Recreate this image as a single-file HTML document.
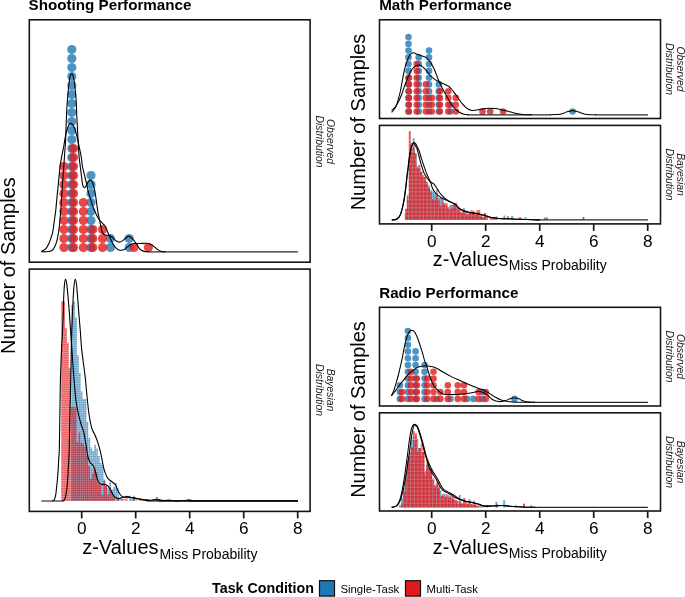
<!DOCTYPE html>
<html lang="en"><head><meta charset="utf-8"><title>Performance distributions</title>
<style>html,body{margin:0;padding:0;background:#fff}body{width:685px;height:597px;overflow:hidden}svg{display:block}text{font-family:"Liberation Sans",Arial,Helvetica,sans-serif;fill:#000}.t{font-weight:bold;font-size:15.2px}.ax{font-size:20px}.sub{font-size:14px}.tk{font-size:17.2px;text-anchor:middle}.st{font-size:10.4px;font-style:italic;text-anchor:middle;fill:#1a1a1a}.lt{font-weight:bold;font-size:14.25px}.ll{font-size:11.4px}.c{fill:none;stroke:#000;stroke-width:1.1;stroke-linejoin:round}.cr{stroke-width:1.05}.bl{stroke:#2a2a2a;stroke-width:1.25}.pb{fill:none;stroke:#151515;stroke-width:1.6}.tick{stroke:#151515;stroke-width:1.7}</style></head><body>
<svg width="685" height="597" viewBox="0 0 685 597">
<defs><mask id="mL2r" maskUnits="userSpaceOnUse" x="58.2" y="293.0" width="144.8" height="209.9"><rect x="58.2" y="293.0" width="144.8" height="209.9" fill="#fff"/><path d="M61.20 295.0V501.9M63.13 295.0V501.9M65.06 295.0V501.9M66.99 295.0V501.9M68.92 295.0V501.9M70.85 295.0V501.9M72.78 295.0V501.9M74.71 295.0V501.9M76.64 295.0V501.9M78.57 295.0V501.9M80.50 295.0V501.9M82.43 295.0V501.9M84.36 295.0V501.9M86.29 295.0V501.9M88.22 295.0V501.9M90.15 295.0V501.9M92.08 295.0V501.9M94.01 295.0V501.9M95.94 295.0V501.9M97.87 295.0V501.9M99.80 295.0V501.9M101.73 295.0V501.9M103.66 295.0V501.9M105.59 295.0V501.9M107.52 295.0V501.9M109.45 295.0V501.9M111.38 295.0V501.9M113.31 295.0V501.9M115.24 295.0V501.9M117.17 295.0V501.9M119.10 295.0V501.9M121.03 295.0V501.9M122.96 295.0V501.9M124.89 295.0V501.9M126.82 295.0V501.9M128.75 295.0V501.9M130.68 295.0V501.9M132.61 295.0V501.9M134.54 295.0V501.9M136.47 295.0V501.9M138.40 295.0V501.9M140.33 295.0V501.9M142.26 295.0V501.9M144.19 295.0V501.9M146.12 295.0V501.9M148.05 295.0V501.9M149.98 295.0V501.9M151.91 295.0V501.9M153.84 295.0V501.9M155.77 295.0V501.9M157.70 295.0V501.9M159.63 295.0V501.9M161.56 295.0V501.9M163.49 295.0V501.9M165.42 295.0V501.9M167.35 295.0V501.9M169.28 295.0V501.9M171.21 295.0V501.9M173.14 295.0V501.9M175.07 295.0V501.9M177.00 295.0V501.9M178.93 295.0V501.9M180.86 295.0V501.9M182.79 295.0V501.9M184.72 295.0V501.9M186.65 295.0V501.9M188.58 295.0V501.9M190.51 295.0V501.9M192.44 295.0V501.9M194.37 295.0V501.9M196.30 295.0V501.9M198.23 295.0V501.9" stroke="#000" stroke-opacity="0.7" stroke-width="0.5" fill="none"/><path d="M59.2 500.90H200.0M59.2 498.65H200.0M59.2 496.40H200.0M59.2 494.15H200.0M59.2 491.90H200.0M59.2 489.65H200.0M59.2 487.40H200.0M59.2 485.15H200.0M59.2 482.90H200.0M59.2 480.65H200.0M59.2 478.40H200.0M59.2 476.15H200.0M59.2 473.90H200.0M59.2 471.65H200.0M59.2 469.40H200.0M59.2 467.15H200.0M59.2 464.90H200.0M59.2 462.65H200.0M59.2 460.40H200.0M59.2 458.15H200.0M59.2 455.90H200.0M59.2 453.65H200.0M59.2 451.40H200.0M59.2 449.15H200.0M59.2 446.90H200.0M59.2 444.65H200.0M59.2 442.40H200.0M59.2 440.15H200.0M59.2 437.90H200.0M59.2 435.65H200.0M59.2 433.40H200.0M59.2 431.15H200.0M59.2 428.90H200.0M59.2 426.65H200.0M59.2 424.40H200.0M59.2 422.15H200.0M59.2 419.90H200.0M59.2 417.65H200.0M59.2 415.40H200.0M59.2 413.15H200.0M59.2 410.90H200.0M59.2 408.65H200.0M59.2 406.40H200.0M59.2 404.15H200.0M59.2 401.90H200.0M59.2 399.65H200.0M59.2 397.40H200.0M59.2 395.15H200.0M59.2 392.90H200.0M59.2 390.65H200.0M59.2 388.40H200.0M59.2 386.15H200.0M59.2 383.90H200.0M59.2 381.65H200.0M59.2 379.40H200.0M59.2 377.15H200.0M59.2 374.90H200.0M59.2 372.65H200.0M59.2 370.40H200.0M59.2 368.15H200.0M59.2 365.90H200.0M59.2 363.65H200.0M59.2 361.40H200.0M59.2 359.15H200.0M59.2 356.90H200.0M59.2 354.65H200.0M59.2 352.40H200.0M59.2 350.15H200.0M59.2 347.90H200.0M59.2 345.65H200.0M59.2 343.40H200.0M59.2 341.15H200.0M59.2 338.90H200.0M59.2 336.65H200.0M59.2 334.40H200.0M59.2 332.15H200.0M59.2 329.90H200.0M59.2 327.65H200.0M59.2 325.40H200.0M59.2 323.15H200.0M59.2 320.90H200.0M59.2 318.65H200.0M59.2 316.40H200.0M59.2 314.15H200.0M59.2 311.90H200.0M59.2 309.65H200.0M59.2 307.40H200.0M59.2 305.15H200.0M59.2 302.90H200.0M59.2 300.65H200.0M59.2 298.40H200.0M59.2 296.15H200.0" stroke="#000" stroke-opacity="0.7" stroke-width="0.55" fill="none"/></mask><mask id="mL2b" maskUnits="userSpaceOnUse" x="58.2" y="293.0" width="144.8" height="209.9"><rect x="58.2" y="293.0" width="144.8" height="209.9" fill="#fff"/><path d="M61.50 295.0V501.9M63.43 295.0V501.9M65.36 295.0V501.9M67.29 295.0V501.9M69.22 295.0V501.9M71.15 295.0V501.9M73.08 295.0V501.9M75.01 295.0V501.9M76.94 295.0V501.9M78.87 295.0V501.9M80.80 295.0V501.9M82.73 295.0V501.9M84.66 295.0V501.9M86.59 295.0V501.9M88.52 295.0V501.9M90.45 295.0V501.9M92.38 295.0V501.9M94.31 295.0V501.9M96.24 295.0V501.9M98.17 295.0V501.9M100.10 295.0V501.9M102.03 295.0V501.9M103.96 295.0V501.9M105.89 295.0V501.9M107.82 295.0V501.9M109.75 295.0V501.9M111.68 295.0V501.9M113.61 295.0V501.9M115.54 295.0V501.9M117.47 295.0V501.9M119.40 295.0V501.9M121.33 295.0V501.9M123.26 295.0V501.9M125.19 295.0V501.9M127.12 295.0V501.9M129.05 295.0V501.9M130.98 295.0V501.9M132.91 295.0V501.9M134.84 295.0V501.9M136.77 295.0V501.9M138.70 295.0V501.9M140.63 295.0V501.9M142.56 295.0V501.9M144.49 295.0V501.9M146.42 295.0V501.9M148.35 295.0V501.9M150.28 295.0V501.9M152.21 295.0V501.9M154.14 295.0V501.9M156.07 295.0V501.9M158.00 295.0V501.9M159.93 295.0V501.9M161.86 295.0V501.9M163.79 295.0V501.9M165.72 295.0V501.9M167.65 295.0V501.9M169.58 295.0V501.9M171.51 295.0V501.9M173.44 295.0V501.9M175.37 295.0V501.9M177.30 295.0V501.9M179.23 295.0V501.9M181.16 295.0V501.9M183.09 295.0V501.9M185.02 295.0V501.9M186.95 295.0V501.9M188.88 295.0V501.9M190.81 295.0V501.9M192.74 295.0V501.9M194.67 295.0V501.9M196.60 295.0V501.9M198.53 295.0V501.9" stroke="#000" stroke-opacity="0.7" stroke-width="0.5" fill="none"/><path d="M59.2 500.40H200.0M59.2 498.15H200.0M59.2 495.90H200.0M59.2 493.65H200.0M59.2 491.40H200.0M59.2 489.15H200.0M59.2 486.90H200.0M59.2 484.65H200.0M59.2 482.40H200.0M59.2 480.15H200.0M59.2 477.90H200.0M59.2 475.65H200.0M59.2 473.40H200.0M59.2 471.15H200.0M59.2 468.90H200.0M59.2 466.65H200.0M59.2 464.40H200.0M59.2 462.15H200.0M59.2 459.90H200.0M59.2 457.65H200.0M59.2 455.40H200.0M59.2 453.15H200.0M59.2 450.90H200.0M59.2 448.65H200.0M59.2 446.40H200.0M59.2 444.15H200.0M59.2 441.90H200.0M59.2 439.65H200.0M59.2 437.40H200.0M59.2 435.15H200.0M59.2 432.90H200.0M59.2 430.65H200.0M59.2 428.40H200.0M59.2 426.15H200.0M59.2 423.90H200.0M59.2 421.65H200.0M59.2 419.40H200.0M59.2 417.15H200.0M59.2 414.90H200.0M59.2 412.65H200.0M59.2 410.40H200.0M59.2 408.15H200.0M59.2 405.90H200.0M59.2 403.65H200.0M59.2 401.40H200.0M59.2 399.15H200.0M59.2 396.90H200.0M59.2 394.65H200.0M59.2 392.40H200.0M59.2 390.15H200.0M59.2 387.90H200.0M59.2 385.65H200.0M59.2 383.40H200.0M59.2 381.15H200.0M59.2 378.90H200.0M59.2 376.65H200.0M59.2 374.40H200.0M59.2 372.15H200.0M59.2 369.90H200.0M59.2 367.65H200.0M59.2 365.40H200.0M59.2 363.15H200.0M59.2 360.90H200.0M59.2 358.65H200.0M59.2 356.40H200.0M59.2 354.15H200.0M59.2 351.90H200.0M59.2 349.65H200.0M59.2 347.40H200.0M59.2 345.15H200.0M59.2 342.90H200.0M59.2 340.65H200.0M59.2 338.40H200.0M59.2 336.15H200.0M59.2 333.90H200.0M59.2 331.65H200.0M59.2 329.40H200.0M59.2 327.15H200.0M59.2 324.90H200.0M59.2 322.65H200.0M59.2 320.40H200.0M59.2 318.15H200.0M59.2 315.90H200.0M59.2 313.65H200.0M59.2 311.40H200.0M59.2 309.15H200.0M59.2 306.90H200.0M59.2 304.65H200.0M59.2 302.40H200.0M59.2 300.15H200.0M59.2 297.90H200.0M59.2 295.65H200.0" stroke="#000" stroke-opacity="0.7" stroke-width="0.55" fill="none"/></mask><mask id="mR2r" maskUnits="userSpaceOnUse" x="401.9" y="126.0" width="191.1" height="95.9"><rect x="401.9" y="126.0" width="191.1" height="95.9" fill="#fff"/><path d="M404.90 128.0V220.9M408.60 128.0V220.9M412.30 128.0V220.9M416.00 128.0V220.9M419.70 128.0V220.9M423.40 128.0V220.9M427.10 128.0V220.9M430.80 128.0V220.9M434.50 128.0V220.9M438.20 128.0V220.9M441.90 128.0V220.9M445.60 128.0V220.9M449.30 128.0V220.9M453.00 128.0V220.9M456.70 128.0V220.9M460.40 128.0V220.9M464.10 128.0V220.9M467.80 128.0V220.9M471.50 128.0V220.9M475.20 128.0V220.9M478.90 128.0V220.9M482.60 128.0V220.9M486.30 128.0V220.9M490.00 128.0V220.9M493.70 128.0V220.9M497.40 128.0V220.9M501.10 128.0V220.9M504.80 128.0V220.9M508.50 128.0V220.9M512.20 128.0V220.9M515.90 128.0V220.9M519.60 128.0V220.9M523.30 128.0V220.9M527.00 128.0V220.9M530.70 128.0V220.9M534.40 128.0V220.9M538.10 128.0V220.9M541.80 128.0V220.9M545.50 128.0V220.9M549.20 128.0V220.9M552.90 128.0V220.9M556.60 128.0V220.9M560.30 128.0V220.9M564.00 128.0V220.9M567.70 128.0V220.9M571.40 128.0V220.9M575.10 128.0V220.9M578.80 128.0V220.9M582.50 128.0V220.9M586.20 128.0V220.9M589.90 128.0V220.9" stroke="#000" stroke-opacity="0.2" stroke-width="1.0" fill="none"/><path d="M402.9 219.90H590.0M402.9 215.90H590.0M402.9 211.90H590.0M402.9 207.90H590.0M402.9 203.90H590.0M402.9 199.90H590.0M402.9 195.90H590.0M402.9 191.90H590.0M402.9 187.90H590.0M402.9 183.90H590.0M402.9 179.90H590.0M402.9 175.90H590.0M402.9 171.90H590.0M402.9 167.90H590.0M402.9 163.90H590.0M402.9 159.90H590.0M402.9 155.90H590.0M402.9 151.90H590.0M402.9 147.90H590.0M402.9 143.90H590.0M402.9 139.90H590.0M402.9 135.90H590.0M402.9 131.90H590.0" stroke="#000" stroke-opacity="0.2" stroke-width="1.0" fill="none"/></mask><mask id="mR2b" maskUnits="userSpaceOnUse" x="401.9" y="126.0" width="191.1" height="95.9"><rect x="401.9" y="126.0" width="191.1" height="95.9" fill="#fff"/><path d="M406.75 128.0V220.9M410.45 128.0V220.9M414.15 128.0V220.9M417.85 128.0V220.9M421.55 128.0V220.9M425.25 128.0V220.9M428.95 128.0V220.9M432.65 128.0V220.9M436.35 128.0V220.9M440.05 128.0V220.9M443.75 128.0V220.9M447.45 128.0V220.9M451.15 128.0V220.9M454.85 128.0V220.9M458.55 128.0V220.9M462.25 128.0V220.9M465.95 128.0V220.9M469.65 128.0V220.9M473.35 128.0V220.9M477.05 128.0V220.9M480.75 128.0V220.9M484.45 128.0V220.9M488.15 128.0V220.9M491.85 128.0V220.9M495.55 128.0V220.9M499.25 128.0V220.9M502.95 128.0V220.9M506.65 128.0V220.9M510.35 128.0V220.9M514.05 128.0V220.9M517.75 128.0V220.9M521.45 128.0V220.9M525.15 128.0V220.9M528.85 128.0V220.9M532.55 128.0V220.9M536.25 128.0V220.9M539.95 128.0V220.9M543.65 128.0V220.9M547.35 128.0V220.9M551.05 128.0V220.9M554.75 128.0V220.9M558.45 128.0V220.9M562.15 128.0V220.9M565.85 128.0V220.9M569.55 128.0V220.9M573.25 128.0V220.9M576.95 128.0V220.9M580.65 128.0V220.9M584.35 128.0V220.9M588.05 128.0V220.9" stroke="#000" stroke-opacity="0.2" stroke-width="1.0" fill="none"/><path d="M402.9 218.10H590.0M402.9 214.10H590.0M402.9 210.10H590.0M402.9 206.10H590.0M402.9 202.10H590.0M402.9 198.10H590.0M402.9 194.10H590.0M402.9 190.10H590.0M402.9 186.10H590.0M402.9 182.10H590.0M402.9 178.10H590.0M402.9 174.10H590.0M402.9 170.10H590.0M402.9 166.10H590.0M402.9 162.10H590.0M402.9 158.10H590.0M402.9 154.10H590.0M402.9 150.10H590.0M402.9 146.10H590.0M402.9 142.10H590.0M402.9 138.10H590.0M402.9 134.10H590.0M402.9 130.10H590.0" stroke="#000" stroke-opacity="0.2" stroke-width="1.0" fill="none"/></mask><mask id="mR4r" maskUnits="userSpaceOnUse" x="396.5" y="423.0" width="146.5" height="86.3"><rect x="396.5" y="423.0" width="146.5" height="86.3" fill="#fff"/><path d="M399.46 425.0V508.3M403.16 425.0V508.3M406.86 425.0V508.3M410.56 425.0V508.3M414.26 425.0V508.3M417.96 425.0V508.3M421.66 425.0V508.3M425.36 425.0V508.3M429.06 425.0V508.3M432.76 425.0V508.3M436.46 425.0V508.3M440.16 425.0V508.3M443.86 425.0V508.3M447.56 425.0V508.3M451.26 425.0V508.3M454.96 425.0V508.3M458.66 425.0V508.3M462.36 425.0V508.3M466.06 425.0V508.3M469.76 425.0V508.3M473.46 425.0V508.3M477.16 425.0V508.3M480.86 425.0V508.3M484.56 425.0V508.3M488.26 425.0V508.3M491.96 425.0V508.3M495.66 425.0V508.3M499.36 425.0V508.3M503.06 425.0V508.3M506.76 425.0V508.3M510.46 425.0V508.3M514.16 425.0V508.3M517.86 425.0V508.3M521.56 425.0V508.3M525.26 425.0V508.3M528.96 425.0V508.3M532.66 425.0V508.3M536.36 425.0V508.3" stroke="#000" stroke-opacity="0.2" stroke-width="1.0" fill="none"/><path d="M397.5 507.30H540.0M397.5 503.30H540.0M397.5 499.30H540.0M397.5 495.30H540.0M397.5 491.30H540.0M397.5 487.30H540.0M397.5 483.30H540.0M397.5 479.30H540.0M397.5 475.30H540.0M397.5 471.30H540.0M397.5 467.30H540.0M397.5 463.30H540.0M397.5 459.30H540.0M397.5 455.30H540.0M397.5 451.30H540.0M397.5 447.30H540.0M397.5 443.30H540.0M397.5 439.30H540.0M397.5 435.30H540.0M397.5 431.30H540.0M397.5 427.30H540.0" stroke="#000" stroke-opacity="0.2" stroke-width="1.0" fill="none"/></mask><mask id="mR4b" maskUnits="userSpaceOnUse" x="396.5" y="423.0" width="146.5" height="86.3"><rect x="396.5" y="423.0" width="146.5" height="86.3" fill="#fff"/><path d="M401.31 425.0V508.3M405.01 425.0V508.3M408.71 425.0V508.3M412.41 425.0V508.3M416.11 425.0V508.3M419.81 425.0V508.3M423.51 425.0V508.3M427.21 425.0V508.3M430.91 425.0V508.3M434.61 425.0V508.3M438.31 425.0V508.3M442.01 425.0V508.3M445.71 425.0V508.3M449.41 425.0V508.3M453.11 425.0V508.3M456.81 425.0V508.3M460.51 425.0V508.3M464.21 425.0V508.3M467.91 425.0V508.3M471.61 425.0V508.3M475.31 425.0V508.3M479.01 425.0V508.3M482.71 425.0V508.3M486.41 425.0V508.3M490.11 425.0V508.3M493.81 425.0V508.3M497.51 425.0V508.3M501.21 425.0V508.3M504.91 425.0V508.3M508.61 425.0V508.3M512.31 425.0V508.3M516.01 425.0V508.3M519.71 425.0V508.3M523.41 425.0V508.3M527.11 425.0V508.3M530.81 425.0V508.3M534.51 425.0V508.3M538.21 425.0V508.3" stroke="#000" stroke-opacity="0.2" stroke-width="1.0" fill="none"/><path d="M397.5 505.50H540.0M397.5 501.50H540.0M397.5 497.50H540.0M397.5 493.50H540.0M397.5 489.50H540.0M397.5 485.50H540.0M397.5 481.50H540.0M397.5 477.50H540.0M397.5 473.50H540.0M397.5 469.50H540.0M397.5 465.50H540.0M397.5 461.50H540.0M397.5 457.50H540.0M397.5 453.50H540.0M397.5 449.50H540.0M397.5 445.50H540.0M397.5 441.50H540.0M397.5 437.50H540.0M397.5 433.50H540.0M397.5 429.50H540.0M397.5 425.50H540.0" stroke="#000" stroke-opacity="0.2" stroke-width="1.0" fill="none"/></mask></defs>
<rect width="685" height="597" fill="#fff"/>
<text class="t" x="28.6" y="10.3">Shooting Performance</text>
<text class="t" x="379.2" y="10.3">Math Performance</text>
<text class="t" x="379.2" y="298">Radio Performance</text>
<text class="ax" text-anchor="middle" transform="translate(15.3 265.6) rotate(-90) scale(1 1.055)">Number of Samples</text>
<text class="ax" text-anchor="middle" transform="translate(365.2 122.0) rotate(-90) scale(1 1.055)">Number of Samples</text>
<text class="ax" text-anchor="middle" transform="translate(365.2 409.5) rotate(-90) scale(1 1.055)">Number of Samples</text>
<text class="ax" style="font-size:20px" x="82.2" y="554.3">z-Values<tspan class="sub" dx="0.9" dy="4.3">Miss Probability</tspan></text>
<text class="ax" style="font-size:19.85px" x="432.8" y="266.2">z-Values<tspan class="sub" dx="0.2" dy="3.8">Miss Probability</tspan></text>
<text class="ax" style="font-size:19.85px" x="432.8" y="553.9">z-Values<tspan class="sub" dx="0.2" dy="3.8">Miss Probability</tspan></text>
<line class="tick" x1="81.7" x2="81.7" y1="511.4" y2="518.4"/>
<text class="tk" x="81.7" y="534.0">0</text>
<line class="tick" x1="135.7" x2="135.7" y1="511.4" y2="518.4"/>
<text class="tk" x="135.7" y="534.0">2</text>
<line class="tick" x1="189.7" x2="189.7" y1="511.4" y2="518.4"/>
<text class="tk" x="189.7" y="534.0">4</text>
<line class="tick" x1="243.7" x2="243.7" y1="511.4" y2="518.4"/>
<text class="tk" x="243.7" y="534.0">6</text>
<line class="tick" x1="297.7" x2="297.7" y1="511.4" y2="518.4"/>
<text class="tk" x="297.7" y="534.0">8</text>
<line class="tick" x1="431.7" x2="431.7" y1="223.9" y2="230.9"/>
<text class="tk" x="431.7" y="246.5">0</text>
<line class="tick" x1="485.7" x2="485.7" y1="223.9" y2="230.9"/>
<text class="tk" x="485.7" y="246.5">2</text>
<line class="tick" x1="539.7" x2="539.7" y1="223.9" y2="230.9"/>
<text class="tk" x="539.7" y="246.5">4</text>
<line class="tick" x1="593.7" x2="593.7" y1="223.9" y2="230.9"/>
<text class="tk" x="593.7" y="246.5">6</text>
<line class="tick" x1="647.7" x2="647.7" y1="223.9" y2="230.9"/>
<text class="tk" x="647.7" y="246.5">8</text>
<line class="tick" x1="431.7" x2="431.7" y1="511.0" y2="518.0"/>
<text class="tk" x="431.7" y="533.6">0</text>
<line class="tick" x1="485.7" x2="485.7" y1="511.0" y2="518.0"/>
<text class="tk" x="485.7" y="533.6">2</text>
<line class="tick" x1="539.7" x2="539.7" y1="511.0" y2="518.0"/>
<text class="tk" x="539.7" y="533.6">4</text>
<line class="tick" x1="593.7" x2="593.7" y1="511.0" y2="518.0"/>
<text class="tk" x="593.7" y="533.6">6</text>
<line class="tick" x1="647.7" x2="647.7" y1="511.0" y2="518.0"/>
<text class="tk" x="647.7" y="533.6">8</text>
<text class="st" transform="translate(327.2 141.5) rotate(90)">Observed</text>
<text class="st" transform="translate(316.0 141.5) rotate(90)">Distribution</text>
<text class="st" transform="translate(327.2 390.0) rotate(90)">Bayesian</text>
<text class="st" transform="translate(316.0 390.0) rotate(90)">Distribution</text>
<text class="st" transform="translate(677.4 69.0) rotate(90)">Observed</text>
<text class="st" transform="translate(666.2 69.0) rotate(90)">Distribution</text>
<text class="st" transform="translate(677.4 174.5) rotate(90)">Bayesian</text>
<text class="st" transform="translate(666.2 174.5) rotate(90)">Distribution</text>
<text class="st" transform="translate(677.4 356.5) rotate(90)">Observed</text>
<text class="st" transform="translate(666.2 356.5) rotate(90)">Distribution</text>
<text class="st" transform="translate(677.4 462.0) rotate(90)">Bayesian</text>
<text class="st" transform="translate(666.2 462.0) rotate(90)">Distribution</text>
<g id="L1">
<g fill="#1f78b4" fill-opacity="0.8"><circle cx="71.8" cy="247.5" r="4.60"/><circle cx="71.8" cy="238.5" r="4.60"/><circle cx="71.8" cy="229.5" r="4.60"/><circle cx="71.8" cy="220.5" r="4.60"/><circle cx="71.8" cy="211.5" r="4.60"/><circle cx="71.8" cy="202.5" r="4.60"/><circle cx="71.8" cy="193.5" r="4.60"/><circle cx="71.8" cy="184.5" r="4.60"/><circle cx="71.8" cy="175.5" r="4.60"/><circle cx="71.8" cy="166.5" r="4.60"/><circle cx="71.8" cy="157.5" r="4.60"/><circle cx="71.8" cy="148.5" r="4.60"/><circle cx="71.8" cy="139.5" r="4.60"/><circle cx="71.8" cy="130.5" r="4.60"/><circle cx="71.8" cy="121.5" r="4.60"/><circle cx="71.8" cy="112.5" r="4.60"/><circle cx="71.8" cy="103.5" r="4.60"/><circle cx="71.8" cy="94.5" r="4.60"/><circle cx="71.8" cy="85.5" r="4.60"/><circle cx="71.8" cy="76.5" r="4.60"/><circle cx="71.8" cy="67.5" r="4.60"/><circle cx="71.8" cy="58.5" r="4.60"/><circle cx="71.8" cy="49.5" r="4.60"/></g>
<g fill="#1f78b4" fill-opacity="0.8"><circle cx="91.0" cy="247.5" r="4.60"/><circle cx="91.0" cy="238.5" r="4.60"/><circle cx="91.0" cy="229.5" r="4.60"/><circle cx="91.0" cy="220.5" r="4.60"/><circle cx="91.0" cy="211.5" r="4.60"/><circle cx="91.0" cy="202.5" r="4.60"/><circle cx="91.0" cy="193.5" r="4.60"/><circle cx="91.0" cy="184.5" r="4.60"/><circle cx="91.0" cy="175.5" r="4.60"/></g>
<g fill="#1f78b4" fill-opacity="0.8"><circle cx="110.4" cy="247.5" r="4.60"/><circle cx="110.4" cy="238.5" r="4.60"/></g>
<g fill="#1f78b4" fill-opacity="0.8"><circle cx="129.2" cy="247.5" r="4.60"/><circle cx="129.2" cy="238.5" r="4.60"/></g>
<g fill="#e31a1c" fill-opacity="0.8"><circle cx="63.9" cy="247.5" r="4.60"/><circle cx="63.9" cy="238.5" r="4.60"/><circle cx="63.9" cy="229.5" r="4.60"/><circle cx="63.9" cy="220.5" r="4.60"/><circle cx="63.9" cy="211.5" r="4.60"/><circle cx="63.9" cy="202.5" r="4.60"/><circle cx="63.9" cy="193.5" r="4.60"/><circle cx="63.9" cy="184.5" r="4.60"/><circle cx="63.9" cy="175.5" r="4.60"/><circle cx="63.9" cy="166.5" r="4.60"/></g>
<g fill="#e31a1c" fill-opacity="0.8"><circle cx="73.5" cy="247.5" r="4.60"/><circle cx="73.5" cy="238.5" r="4.60"/><circle cx="73.5" cy="229.5" r="4.60"/><circle cx="73.5" cy="220.5" r="4.60"/><circle cx="73.5" cy="211.5" r="4.60"/><circle cx="73.5" cy="202.5" r="4.60"/><circle cx="73.5" cy="193.5" r="4.60"/><circle cx="73.5" cy="184.5" r="4.60"/><circle cx="73.5" cy="175.5" r="4.60"/><circle cx="73.5" cy="166.5" r="4.60"/><circle cx="73.5" cy="157.5" r="4.60"/><circle cx="73.5" cy="148.5" r="4.60"/></g>
<g fill="#e31a1c" fill-opacity="0.8"><circle cx="83.3" cy="247.5" r="4.60"/><circle cx="83.3" cy="238.5" r="4.60"/><circle cx="83.3" cy="229.5" r="4.60"/><circle cx="83.3" cy="220.5" r="4.60"/><circle cx="83.3" cy="211.5" r="4.60"/><circle cx="83.3" cy="202.5" r="4.60"/></g>
<g fill="#e31a1c" fill-opacity="0.8"><circle cx="92.8" cy="247.5" r="4.60"/><circle cx="92.8" cy="238.5" r="4.60"/><circle cx="92.8" cy="229.5" r="4.60"/></g>
<g fill="#e31a1c" fill-opacity="0.8"><circle cx="102.6" cy="247.5" r="4.60"/><circle cx="102.6" cy="238.5" r="4.60"/><circle cx="102.6" cy="229.5" r="4.60"/></g>
<g fill="#e31a1c" fill-opacity="0.8"><circle cx="134.0" cy="247.5" r="4.60"/></g>
<g fill="#e31a1c" fill-opacity="0.8"><circle cx="148.4" cy="247.5" r="4.60"/></g>
<line class="bl" x1="147.0" x2="298.0" y1="251.8" y2="251.8"/>
<path class="c" d="M41.30 251.40 C41.67 251.22 42.70 250.82 43.50 250.30 C44.30 249.78 45.18 249.48 46.10 248.30 C47.02 247.12 48.15 245.03 49.00 243.20 C49.85 241.37 50.58 239.15 51.20 237.30 C51.82 235.45 52.27 234.20 52.70 232.10 C53.13 230.00 53.45 227.15 53.80 224.70 C54.15 222.25 54.47 219.85 54.80 217.40 C55.13 214.95 55.47 213.07 55.80 210.00 C56.13 206.93 56.45 202.65 56.80 199.00 C57.15 195.35 57.53 191.77 57.90 188.10 C58.27 184.43 58.63 180.68 59.00 177.00 C59.37 173.32 59.63 169.50 60.10 166.00 C60.57 162.50 61.18 159.33 61.80 156.00 C62.42 152.67 63.22 149.17 63.80 146.00 C64.38 142.83 64.80 139.62 65.30 137.00 C65.80 134.38 66.30 132.10 66.80 130.30 C67.30 128.50 67.83 127.25 68.30 126.20 C68.77 125.15 69.17 124.47 69.60 124.00 C70.03 123.53 70.43 123.35 70.90 123.40 C71.37 123.45 71.90 123.75 72.40 124.30 C72.90 124.85 73.38 125.62 73.90 126.70 C74.42 127.78 75.07 129.43 75.50 130.80 C75.93 132.17 76.17 133.62 76.50 134.90 C76.83 136.18 77.08 136.65 77.50 138.50 C77.92 140.35 78.53 143.75 79.00 146.00 C79.47 148.25 79.90 150.00 80.30 152.00 C80.70 154.00 81.05 155.67 81.40 158.00 C81.75 160.33 81.87 163.07 82.40 166.00 C82.93 168.93 83.93 172.77 84.60 175.60 C85.27 178.43 85.78 180.30 86.40 183.00 C87.02 185.70 87.62 189.10 88.30 191.80 C88.98 194.50 89.77 196.83 90.50 199.20 C91.23 201.57 92.07 204.20 92.70 206.00 C93.33 207.80 93.68 208.57 94.30 210.00 C94.92 211.43 95.55 212.95 96.40 214.60 C97.25 216.25 98.30 218.37 99.40 219.90 C100.50 221.43 102.07 222.78 103.00 223.80 C103.93 224.82 104.37 224.98 105.00 226.00 C105.63 227.02 106.22 228.58 106.80 229.90 C107.38 231.22 108.00 232.72 108.50 233.90 C109.00 235.08 109.28 235.77 109.80 237.00 C110.32 238.23 110.93 239.92 111.60 241.30 C112.27 242.68 113.00 244.13 113.80 245.30 C114.60 246.47 115.53 247.53 116.40 248.30 C117.27 249.07 118.20 249.58 119.00 249.90 C119.80 250.22 120.32 250.28 121.20 250.20 C122.08 250.12 123.43 249.78 124.30 249.40 C125.17 249.02 125.32 248.70 126.40 247.90 C127.48 247.10 129.47 245.33 130.80 244.60 C132.13 243.87 132.83 243.68 134.40 243.50 C135.97 243.32 138.13 243.53 140.20 243.50 C142.27 243.47 144.97 243.12 146.80 243.30 C148.63 243.48 149.87 243.95 151.20 244.60 C152.53 245.25 153.58 246.28 154.80 247.20 C156.02 248.12 157.28 249.38 158.50 250.10 C159.72 250.82 160.85 251.22 162.10 251.50 C163.35 251.78 165.35 251.75 166.00 251.80"/>
<path class="c" d="M41.30 251.80 C42.08 251.80 44.55 251.88 46.00 251.80 C47.45 251.72 48.92 251.60 50.00 251.30 C51.08 251.00 51.78 250.62 52.50 250.00 C53.22 249.38 53.68 248.73 54.30 247.60 C54.92 246.47 55.67 244.80 56.20 243.20 C56.73 241.60 57.10 239.85 57.50 238.00 C57.90 236.15 58.27 234.32 58.60 232.10 C58.93 229.88 59.23 227.15 59.50 224.70 C59.77 222.25 59.98 219.85 60.20 217.40 C60.42 214.95 60.55 213.57 60.80 210.00 C61.05 206.43 61.38 200.88 61.70 196.00 C62.02 191.12 62.35 185.70 62.70 180.70 C63.05 175.70 63.45 170.78 63.80 166.00 C64.15 161.22 64.50 156.33 64.80 152.00 C65.10 147.67 65.38 144.45 65.60 140.00 C65.82 135.55 65.95 129.30 66.10 125.30 C66.25 121.30 66.35 119.22 66.50 116.00 C66.65 112.78 66.78 109.38 67.00 106.00 C67.22 102.62 67.50 99.20 67.80 95.70 C68.10 92.20 68.47 87.95 68.80 85.00 C69.13 82.05 69.47 79.75 69.80 78.00 C70.13 76.25 70.48 75.22 70.80 74.50 C71.12 73.78 71.40 73.70 71.70 73.70 C72.00 73.70 72.28 73.78 72.60 74.50 C72.92 75.22 73.25 76.25 73.60 78.00 C73.95 79.75 74.33 82.05 74.70 85.00 C75.07 87.95 75.52 92.20 75.80 95.70 C76.08 99.20 76.23 102.62 76.40 106.00 C76.57 109.38 76.60 111.78 76.80 116.00 C77.00 120.22 77.33 126.30 77.60 131.30 C77.87 136.30 78.13 141.55 78.40 146.00 C78.67 150.45 78.90 154.67 79.20 158.00 C79.50 161.33 79.80 162.82 80.20 166.00 C80.60 169.18 81.20 174.03 81.60 177.10 C82.00 180.17 82.28 182.75 82.60 184.40 C82.92 186.05 83.17 186.45 83.50 187.00 C83.83 187.55 84.23 187.80 84.60 187.70 C84.97 187.60 85.33 186.95 85.70 186.40 C86.07 185.85 86.32 185.28 86.80 184.40 C87.28 183.52 87.98 181.80 88.60 181.10 C89.22 180.40 89.88 180.07 90.50 180.20 C91.12 180.33 91.75 180.83 92.30 181.90 C92.85 182.97 93.30 184.58 93.80 186.60 C94.30 188.62 94.87 191.53 95.30 194.00 C95.73 196.47 96.02 198.73 96.40 201.40 C96.78 204.07 97.25 207.73 97.60 210.00 C97.95 212.27 98.20 213.35 98.50 215.00 C98.80 216.65 99.07 218.28 99.40 219.90 C99.73 221.52 100.08 222.80 100.50 224.70 C100.92 226.60 101.37 229.73 101.90 231.30 C102.43 232.87 103.03 233.45 103.70 234.10 C104.37 234.75 105.02 234.98 105.90 235.20 C106.78 235.42 107.98 235.10 109.00 235.40 C110.02 235.70 111.07 236.30 112.00 237.00 C112.93 237.70 113.72 238.85 114.60 239.60 C115.48 240.35 116.48 241.08 117.30 241.50 C118.12 241.92 118.70 242.17 119.50 242.10 C120.30 242.03 121.15 241.70 122.10 241.10 C123.05 240.50 124.25 239.25 125.20 238.50 C126.15 237.75 127.18 236.95 127.80 236.60 C128.42 236.25 128.45 236.33 128.90 236.40 C129.35 236.47 129.83 236.55 130.50 237.00 C131.17 237.45 131.88 237.90 132.90 239.10 C133.92 240.30 135.38 242.48 136.60 244.20 C137.82 245.92 138.98 248.20 140.20 249.40 C141.42 250.60 142.60 251.00 143.90 251.40 C145.20 251.80 147.32 251.73 148.00 251.80"/>
<rect class="pb" x="29.3" y="19.8" width="280.8" height="242.4"/>
</g>
<g id="L2">
<path d="M71.20 501.1V305.0h1.93V501.1zM73.10 501.1V301.3h1.93V501.1zM75.00 501.1V317.5h1.93V501.1zM76.90 501.1V355.3h1.93V501.1zM78.80 501.1V373.0h1.93V501.1zM80.70 501.1V391.5h1.93V501.1zM82.60 501.1V398.9h1.93V501.1zM84.50 501.1V398.9h1.93V501.1zM86.40 501.1V421.9h1.93V501.1zM88.30 501.1V438.0h1.93V501.1zM90.20 501.1V447.4h1.93V501.1zM92.10 501.1V451.0h1.93V501.1zM94.00 501.1V444.9h1.93V501.1zM95.90 501.1V448.6h1.93V501.1zM97.80 501.1V456.0h1.93V501.1zM99.70 501.1V462.8h1.93V501.1zM101.60 501.1V465.3h1.93V501.1zM103.50 501.1V479.6h1.93V501.1zM105.40 501.1V485.0h1.93V501.1zM107.30 501.1V488.2h1.93V501.1zM109.20 501.1V481.4h1.93V501.1zM111.10 501.1V489.5h1.93V501.1zM113.00 501.1V487.0h1.93V501.1zM114.90 501.1V483.3h1.93V501.1zM116.80 501.1V488.2h1.93V501.1zM118.70 501.1V498.0h1.93V501.1zM123.00 501.1V499.0h1.93V501.1zM129.00 501.1V495.7h1.93V501.1zM131.00 501.1V498.5h1.93V501.1zM133.20 501.1V497.0h1.93V501.1zM135.50 501.1V499.0h1.93V501.1zM188.00 501.1V499.2h1.93V501.1z" fill="#1f78b4" fill-opacity="0.8" mask="url(#mL2b)"/><path d="M61.20 501.1V301.3h1.93V501.1zM63.10 501.1V301.3h1.93V501.1zM65.00 501.1V328.2h1.93V501.1zM66.90 501.1V342.7h1.93V501.1zM68.80 501.1V368.2h1.93V501.1zM70.80 501.1V407.0h1.93V501.1zM72.70 501.1V407.0h1.93V501.1zM74.60 501.1V407.5h1.93V501.1zM76.50 501.1V442.0h1.93V501.1zM78.40 501.1V432.6h1.93V501.1zM80.40 501.1V443.0h1.93V501.1zM82.30 501.1V443.5h1.93V501.1zM84.20 501.1V447.0h1.93V501.1zM86.10 501.1V454.8h1.93V501.1zM88.00 501.1V466.0h1.93V501.1zM89.90 501.1V479.0h1.93V501.1zM91.80 501.1V473.4h1.93V501.1zM93.70 501.1V469.7h1.93V501.1zM95.60 501.1V472.8h1.93V501.1zM97.50 501.1V483.3h1.93V501.1zM99.40 501.1V485.0h1.93V501.1zM101.30 501.1V495.0h1.93V501.1zM103.20 501.1V480.8h1.93V501.1zM105.10 501.1V485.8h1.93V501.1zM107.00 501.1V494.4h1.93V501.1zM109.00 501.1V487.6h1.93V501.1zM111.00 501.1V492.0h1.93V501.1zM113.00 501.1V497.5h1.93V501.1zM115.00 501.1V500.9h1.93V501.1zM117.00 501.1V497.5h1.93V501.1zM119.00 501.1V500.9h1.93V501.1zM121.00 501.1V499.0h1.93V501.1zM125.50 501.1V495.7h1.93V501.1zM133.00 501.1V495.7h1.93V501.1zM139.50 501.1V498.0h1.93V501.1zM146.50 501.1V499.3h1.93V501.1zM156.00 501.1V497.0h1.93V501.1zM167.50 501.1V499.2h1.93V501.1z" fill="#e31a1c" fill-opacity="0.88" mask="url(#mL2r)"/>
<line class="bl" style="stroke:#5c5c5c;stroke-width:1.5" x1="41.3" x2="63.5" y1="501.0" y2="501.0"/>
<line class="bl" style="stroke:#5c5c5c;stroke-width:1.5" x1="159.0" x2="298.0" y1="501.0" y2="501.0"/>
<path class="c" d="M52.20 500.90 C52.40 500.85 53.02 500.87 53.40 500.60 C53.78 500.33 54.10 500.35 54.50 499.30 C54.90 498.25 55.43 496.48 55.80 494.30 C56.17 492.12 56.40 489.07 56.70 486.20 C57.00 483.33 57.33 480.12 57.60 477.10 C57.87 474.08 58.12 471.12 58.30 468.10 C58.48 465.08 58.53 462.02 58.70 459.00 C58.87 455.98 59.12 456.50 59.30 450.00 C59.48 443.50 59.67 428.33 59.80 420.00 C59.93 411.67 59.98 407.17 60.10 400.00 C60.22 392.83 60.25 385.67 60.50 377.00 C60.75 368.33 61.30 355.00 61.60 348.00 C61.90 341.00 62.02 340.83 62.30 335.00 C62.58 329.17 63.07 319.25 63.30 313.00 C63.53 306.75 63.50 302.28 63.70 297.50 C63.90 292.72 64.20 287.35 64.50 284.30 C64.80 281.25 65.12 279.20 65.50 279.20 C65.88 279.20 66.37 281.25 66.80 284.30 C67.23 287.35 67.67 292.73 68.10 297.50 C68.53 302.27 69.00 307.48 69.40 312.90 C69.80 318.32 70.10 324.15 70.50 330.00 C70.90 335.85 71.33 341.33 71.80 348.00 C72.27 354.67 72.85 363.83 73.30 370.00 C73.75 376.17 74.08 380.13 74.50 385.00 C74.92 389.87 75.30 395.12 75.80 399.20 C76.30 403.28 76.90 406.33 77.50 409.50 C78.10 412.67 78.73 415.53 79.40 418.20 C80.07 420.87 80.78 423.20 81.50 425.50 C82.22 427.80 83.02 429.18 83.70 432.00 C84.38 434.82 85.05 439.23 85.60 442.40 C86.15 445.57 86.60 448.57 87.00 451.00 C87.40 453.43 87.52 455.13 88.00 457.00 C88.48 458.87 89.07 460.82 89.90 462.20 C90.73 463.58 92.17 464.05 93.00 465.30 C93.83 466.55 94.28 467.73 94.90 469.70 C95.52 471.67 96.08 475.05 96.70 477.10 C97.32 479.15 97.87 480.80 98.60 482.00 C99.33 483.20 100.07 483.92 101.10 484.30 C102.13 484.68 103.67 484.05 104.80 484.30 C105.93 484.55 106.97 484.93 107.90 485.80 C108.83 486.67 109.58 488.07 110.40 489.50 C111.22 490.93 111.98 493.07 112.80 494.40 C113.62 495.73 114.37 496.82 115.30 497.50 C116.23 498.18 117.15 498.50 118.40 498.50 C119.65 498.50 121.45 497.80 122.80 497.50 C124.15 497.20 125.17 496.70 126.50 496.70 C127.83 496.70 129.25 497.25 130.80 497.50 C132.35 497.75 133.93 497.85 135.80 498.20 C137.67 498.55 139.63 499.23 142.00 499.60 C144.37 499.97 148.17 500.37 150.00 500.40 C151.83 500.43 151.88 500.00 153.00 499.80 C154.12 499.60 155.53 499.17 156.70 499.20 C157.87 499.23 158.78 499.78 160.00 500.00 C161.22 500.22 162.33 500.45 164.00 500.50 C165.67 500.55 168.00 500.23 170.00 500.30 C172.00 500.37 173.67 500.87 176.00 500.90 C178.33 500.93 181.87 500.65 184.00 500.50 C186.13 500.35 187.30 499.98 188.80 500.00 C190.30 500.02 191.47 500.45 193.00 500.60 C194.53 500.75 180.50 500.85 198.00 500.90 C215.50 500.95 281.33 500.90 298.00 500.90"/>
<path class="c" d="M62.60 500.90 C62.80 500.85 63.42 500.93 63.80 500.60 C64.18 500.27 64.50 500.10 64.90 498.90 C65.30 497.70 65.83 495.52 66.20 493.40 C66.57 491.28 66.83 488.92 67.10 486.20 C67.37 483.48 67.60 480.12 67.80 477.10 C68.00 474.08 68.13 471.12 68.30 468.10 C68.47 465.08 68.65 462.02 68.80 459.00 C68.95 455.98 69.02 457.53 69.20 450.00 C69.38 442.47 69.72 422.13 69.90 413.80 C70.08 405.47 70.13 407.30 70.30 400.00 C70.47 392.70 70.73 378.67 70.90 370.00 C71.07 361.33 71.15 354.67 71.30 348.00 C71.45 341.33 71.60 335.85 71.80 330.00 C72.00 324.15 72.27 318.32 72.50 312.90 C72.73 307.48 72.92 302.27 73.20 297.50 C73.48 292.73 73.85 287.35 74.20 284.30 C74.55 281.25 74.92 279.20 75.30 279.20 C75.68 279.20 76.12 281.25 76.50 284.30 C76.88 287.35 77.22 292.73 77.60 297.50 C77.98 302.27 78.33 307.10 78.80 312.90 C79.27 318.70 79.93 326.38 80.40 332.30 C80.87 338.22 80.95 342.12 81.60 348.40 C82.25 354.68 83.68 365.07 84.30 370.00 C84.92 374.93 84.92 374.35 85.30 378.00 C85.68 381.65 86.00 385.93 86.60 391.90 C87.20 397.87 88.15 408.20 88.90 413.80 C89.65 419.40 90.52 422.80 91.10 425.50 C91.68 428.20 91.67 428.22 92.40 430.00 C93.13 431.78 94.47 433.72 95.50 436.20 C96.53 438.68 97.67 441.80 98.60 444.90 C99.53 448.00 100.28 451.08 101.10 454.80 C101.92 458.52 102.78 464.10 103.50 467.20 C104.22 470.30 104.67 471.55 105.40 473.40 C106.13 475.25 106.77 476.87 107.90 478.30 C109.03 479.73 110.97 480.97 112.20 482.00 C113.43 483.03 114.47 483.35 115.30 484.50 C116.13 485.65 116.47 487.35 117.20 488.90 C117.93 490.45 118.77 492.47 119.70 493.80 C120.63 495.13 121.67 496.38 122.80 496.90 C123.93 497.42 125.37 496.83 126.50 496.90 C127.63 496.97 128.05 497.08 129.60 497.30 C131.15 497.52 133.73 497.82 135.80 498.20 C137.87 498.58 139.63 499.20 142.00 499.60 C144.37 500.00 147.00 500.38 150.00 500.60 C153.00 500.82 135.33 500.85 160.00 500.90 C184.67 500.95 275.00 500.90 298.00 500.90"/>
<rect class="pb" x="29.3" y="269.1" width="280.8" height="242.3"/>
</g>
<g id="R1">
<g fill="#1f78b4" fill-opacity="0.8"><circle cx="408.5" cy="111.5" r="3.30"/><circle cx="408.5" cy="104.7" r="3.30"/><circle cx="408.5" cy="97.9" r="3.30"/><circle cx="408.5" cy="91.2" r="3.30"/><circle cx="408.5" cy="84.4" r="3.30"/><circle cx="408.5" cy="77.7" r="3.30"/><circle cx="408.5" cy="70.9" r="3.30"/><circle cx="408.5" cy="64.1" r="3.30"/><circle cx="408.5" cy="57.4" r="3.30"/><circle cx="408.5" cy="50.6" r="3.30"/><circle cx="408.5" cy="43.9" r="3.30"/><circle cx="408.5" cy="37.1" r="3.30"/></g>
<g fill="#1f78b4" fill-opacity="0.8"><circle cx="418.7" cy="111.5" r="3.30"/><circle cx="418.7" cy="104.7" r="3.30"/><circle cx="418.7" cy="97.9" r="3.30"/><circle cx="418.7" cy="91.2" r="3.30"/><circle cx="418.7" cy="84.4" r="3.30"/><circle cx="418.7" cy="77.7" r="3.30"/><circle cx="418.7" cy="70.9" r="3.30"/><circle cx="418.7" cy="64.1" r="3.30"/><circle cx="418.7" cy="57.4" r="3.30"/></g>
<g fill="#1f78b4" fill-opacity="0.8"><circle cx="429.0" cy="111.5" r="3.30"/><circle cx="429.0" cy="104.7" r="3.30"/><circle cx="429.0" cy="97.9" r="3.30"/><circle cx="429.0" cy="91.2" r="3.30"/><circle cx="429.0" cy="84.4" r="3.30"/><circle cx="429.0" cy="77.7" r="3.30"/><circle cx="429.0" cy="70.9" r="3.30"/><circle cx="429.0" cy="64.1" r="3.30"/><circle cx="429.0" cy="57.4" r="3.30"/><circle cx="429.0" cy="50.6" r="3.30"/></g>
<g fill="#1f78b4" fill-opacity="0.8"><circle cx="438.8" cy="111.5" r="3.30"/><circle cx="438.8" cy="104.7" r="3.30"/><circle cx="438.8" cy="97.9" r="3.30"/><circle cx="438.8" cy="91.2" r="3.30"/><circle cx="438.8" cy="84.4" r="3.30"/></g>
<g fill="#1f78b4" fill-opacity="0.8"><circle cx="450.5" cy="111.5" r="3.30"/><circle cx="450.5" cy="104.7" r="3.30"/></g>
<g fill="#1f78b4" fill-opacity="0.8"><circle cx="572.6" cy="111.5" r="3.30"/></g>
<g fill="#e31a1c" fill-opacity="0.8"><circle cx="408.9" cy="111.5" r="3.30"/><circle cx="408.9" cy="104.7" r="3.30"/><circle cx="408.9" cy="97.9" r="3.30"/><circle cx="408.9" cy="91.2" r="3.30"/><circle cx="408.9" cy="84.4" r="3.30"/><circle cx="408.9" cy="77.7" r="3.30"/></g>
<g fill="#e31a1c" fill-opacity="0.8"><circle cx="416.7" cy="111.5" r="3.30"/><circle cx="416.7" cy="104.7" r="3.30"/><circle cx="416.7" cy="97.9" r="3.30"/><circle cx="416.7" cy="91.2" r="3.30"/><circle cx="416.7" cy="84.4" r="3.30"/><circle cx="416.7" cy="77.7" r="3.30"/><circle cx="416.7" cy="70.9" r="3.30"/><circle cx="416.7" cy="64.1" r="3.30"/></g>
<g fill="#e31a1c" fill-opacity="0.8"><circle cx="425.9" cy="111.5" r="3.30"/><circle cx="425.9" cy="104.7" r="3.30"/><circle cx="425.9" cy="97.9" r="3.30"/><circle cx="425.9" cy="91.2" r="3.30"/><circle cx="425.9" cy="84.4" r="3.30"/></g>
<g fill="#e31a1c" fill-opacity="0.8"><circle cx="431.8" cy="111.5" r="3.30"/><circle cx="431.8" cy="104.7" r="3.30"/><circle cx="431.8" cy="97.9" r="3.30"/></g>
<g fill="#e31a1c" fill-opacity="0.8"><circle cx="439.9" cy="111.5" r="3.30"/><circle cx="439.9" cy="104.7" r="3.30"/><circle cx="439.9" cy="97.9" r="3.30"/><circle cx="439.9" cy="91.2" r="3.30"/></g>
<g fill="#e31a1c" fill-opacity="0.8"><circle cx="448.3" cy="111.5" r="3.30"/><circle cx="448.3" cy="104.7" r="3.30"/><circle cx="448.3" cy="97.9" r="3.30"/><circle cx="448.3" cy="91.2" r="3.30"/></g>
<g fill="#e31a1c" fill-opacity="0.8"><circle cx="455.8" cy="111.5" r="3.30"/><circle cx="455.8" cy="104.7" r="3.30"/><circle cx="455.8" cy="97.9" r="3.30"/></g>
<g fill="#e31a1c" fill-opacity="0.8"><circle cx="482.5" cy="111.5" r="3.30"/></g>
<g fill="#e31a1c" fill-opacity="0.8"><circle cx="490.2" cy="111.5" r="3.30"/></g>
<g fill="#e31a1c" fill-opacity="0.8"><circle cx="503.1" cy="111.5" r="3.30"/></g>
<line class="bl" x1="467.5" x2="551.0" y1="114.8" y2="114.8"/>
<line class="bl" x1="595.0" x2="647.9" y1="114.8" y2="114.8"/>
<path class="c cr" d="M391.60 110.40 C392.08 109.97 393.52 108.95 394.50 107.80 C395.48 106.65 396.62 104.97 397.50 103.50 C398.38 102.03 399.03 100.70 399.80 99.00 C400.57 97.30 401.33 95.40 402.10 93.30 C402.87 91.20 403.65 88.48 404.40 86.40 C405.15 84.32 405.85 82.68 406.60 80.80 C407.35 78.92 408.13 76.82 408.90 75.10 C409.67 73.38 410.43 71.73 411.20 70.50 C411.97 69.27 412.65 68.50 413.50 67.70 C414.35 66.90 415.35 66.13 416.30 65.70 C417.25 65.27 418.15 64.92 419.20 65.10 C420.25 65.28 421.50 65.98 422.60 66.80 C423.70 67.62 424.65 68.72 425.80 70.00 C426.95 71.28 428.23 73.10 429.50 74.50 C430.77 75.90 432.07 77.32 433.40 78.40 C434.73 79.48 436.10 80.23 437.50 81.00 C438.90 81.77 440.55 82.42 441.80 83.00 C443.05 83.58 443.88 83.95 445.00 84.50 C446.12 85.05 447.42 85.55 448.50 86.30 C449.58 87.05 450.53 87.95 451.50 89.00 C452.47 90.05 453.35 91.32 454.30 92.60 C455.25 93.88 456.22 95.30 457.20 96.70 C458.18 98.10 459.28 99.75 460.20 101.00 C461.12 102.25 461.87 103.22 462.70 104.20 C463.53 105.18 464.32 106.10 465.20 106.90 C466.08 107.70 467.03 108.45 468.00 109.00 C468.97 109.55 470.18 109.95 471.00 110.20 C471.82 110.45 471.90 110.53 472.90 110.50 C473.90 110.47 475.48 110.25 477.00 110.00 C478.52 109.75 480.07 109.30 482.00 109.00 C483.93 108.70 486.43 108.27 488.60 108.20 C490.77 108.13 493.10 108.40 495.00 108.60 C496.90 108.80 498.00 108.98 500.00 109.40 C502.00 109.82 504.80 110.53 507.00 111.10 C509.20 111.67 511.15 112.32 513.20 112.80 C515.25 113.28 517.17 113.68 519.30 114.00 C521.43 114.32 523.88 114.57 526.00 114.70 C528.12 114.83 531.00 114.78 532.00 114.80"/>
<path class="c cr" d="M391.60 112.40 C392.02 111.92 393.30 110.65 394.10 109.50 C394.90 108.35 395.63 107.45 396.40 105.50 C397.17 103.55 398.03 100.22 398.70 97.80 C399.37 95.38 399.83 93.65 400.40 91.00 C400.97 88.35 401.53 84.93 402.10 81.90 C402.67 78.87 403.23 75.47 403.80 72.80 C404.37 70.13 404.83 68.18 405.50 65.90 C406.17 63.62 407.03 60.98 407.80 59.10 C408.57 57.22 409.25 55.65 410.10 54.60 C410.95 53.55 411.58 52.80 412.90 52.80 C414.22 52.80 416.57 54.10 418.00 54.60 C419.43 55.10 420.08 55.28 421.50 55.80 C422.92 56.32 424.88 56.40 426.50 57.70 C428.12 59.00 429.85 61.55 431.20 63.60 C432.55 65.65 433.40 67.27 434.60 70.00 C435.80 72.73 437.17 77.08 438.40 80.00 C439.63 82.92 440.73 84.98 442.00 87.50 C443.27 90.02 444.78 92.88 446.00 95.10 C447.22 97.32 448.20 98.98 449.30 100.80 C450.40 102.62 451.42 104.47 452.60 106.00 C453.78 107.53 455.13 108.88 456.40 110.00 C457.67 111.12 458.93 112.00 460.20 112.70 C461.47 113.40 462.62 113.85 464.00 114.20 C465.38 114.55 467.75 114.70 468.50 114.80"/>
<path class="c cr" d="M550.00 114.80 C550.97 114.77 554.13 114.70 555.80 114.60 C557.47 114.50 558.63 114.47 560.00 114.20 C561.37 113.93 562.67 113.45 564.00 113.00 C565.33 112.55 566.57 111.90 568.00 111.50 C569.43 111.10 571.10 110.60 572.60 110.60 C574.10 110.60 575.60 111.10 577.00 111.50 C578.40 111.90 579.67 112.55 581.00 113.00 C582.33 113.45 583.50 113.92 585.00 114.20 C586.50 114.48 588.17 114.60 590.00 114.70 C591.83 114.80 595.00 114.78 596.00 114.80"/>
<rect class="pb" x="379.5" y="19.8" width="281.0" height="98.7"/>
</g>
<g id="R2">
<path d="M405.00 220.1V214.0h1.93V220.1zM406.93 220.1V200.0h1.93V220.1zM408.86 220.1V165.0h1.93V220.1zM410.79 220.1V152.0h1.93V220.1zM412.72 220.1V138.2h1.93V220.1zM414.65 220.1V154.0h1.93V220.1zM416.58 220.1V166.0h1.93V220.1zM418.51 220.1V168.0h1.93V220.1zM420.44 220.1V171.6h1.93V220.1zM422.37 220.1V177.0h1.93V220.1zM424.30 220.1V181.0h1.93V220.1zM426.23 220.1V184.0h1.93V220.1zM428.16 220.1V185.5h1.93V220.1zM430.09 220.1V190.2h1.93V220.1zM432.02 220.1V191.6h1.93V220.1zM433.95 220.1V193.2h1.93V220.1zM435.88 220.1V189.2h1.93V220.1zM437.81 220.1V198.0h1.93V220.1zM439.74 220.1V198.0h1.93V220.1zM441.67 220.1V197.2h1.93V220.1zM443.60 220.1V206.0h1.93V220.1zM445.53 220.1V205.0h1.93V220.1zM447.46 220.1V209.0h1.93V220.1zM449.39 220.1V205.0h1.93V220.1zM451.32 220.1V208.0h1.93V220.1zM453.25 220.1V206.0h1.93V220.1zM455.18 220.1V202.8h1.93V220.1zM457.11 220.1V211.0h1.93V220.1zM459.04 220.1V212.0h1.93V220.1zM460.97 220.1V214.0h1.93V220.1zM462.90 220.1V208.0h1.93V220.1zM464.83 220.1V215.0h1.93V220.1zM466.76 220.1V215.0h1.93V220.1zM468.69 220.1V214.0h1.93V220.1zM470.62 220.1V213.0h1.93V220.1zM472.55 220.1V210.9h1.93V220.1zM474.48 220.1V215.0h1.93V220.1zM476.41 220.1V213.0h1.93V220.1zM478.34 220.1V214.0h1.93V220.1zM480.27 220.1V217.0h1.93V220.1zM482.20 220.1V218.0h1.93V220.1zM484.13 220.1V216.0h1.93V220.1zM495.71 220.1V216.5h1.93V220.1zM503.43 220.1V215.5h1.93V220.1zM511.15 220.1V216.0h1.93V220.1zM524.66 220.1V217.0h1.93V220.1zM543.96 220.1V217.4h1.93V220.1z" fill="#1f78b4" fill-opacity="0.78" mask="url(#mR2b)"/><path d="M404.90 220.1V208.8h1.93V220.1zM406.83 220.1V195.0h1.93V220.1zM408.76 220.1V131.0h1.93V220.1zM410.69 220.1V143.0h1.93V220.1zM412.62 220.1V147.0h1.93V220.1zM414.55 220.1V153.0h1.93V220.1zM416.48 220.1V168.0h1.93V220.1zM418.41 220.1V165.0h1.93V220.1zM420.34 220.1V172.0h1.93V220.1zM422.27 220.1V175.0h1.93V220.1zM424.20 220.1V177.0h1.93V220.1zM426.13 220.1V182.0h1.93V220.1zM428.06 220.1V188.0h1.93V220.1zM429.99 220.1V192.0h1.93V220.1zM431.92 220.1V199.0h1.93V220.1zM433.85 220.1V200.0h1.93V220.1zM435.78 220.1V196.0h1.93V220.1zM437.71 220.1V200.0h1.93V220.1zM439.64 220.1V206.0h1.93V220.1zM441.57 220.1V201.4h1.93V220.1zM443.50 220.1V203.0h1.93V220.1zM445.43 220.1V203.0h1.93V220.1zM447.36 220.1V207.0h1.93V220.1zM449.29 220.1V209.6h1.93V220.1zM451.22 220.1V205.0h1.93V220.1zM453.15 220.1V203.0h1.93V220.1zM455.08 220.1V206.3h1.93V220.1zM457.01 220.1V208.0h1.93V220.1zM458.94 220.1V209.6h1.93V220.1zM460.87 220.1V212.3h1.93V220.1zM462.80 220.1V211.0h1.93V220.1zM464.73 220.1V213.0h1.93V220.1zM466.66 220.1V213.8h1.93V220.1zM468.59 220.1V212.0h1.93V220.1zM470.52 220.1V210.1h1.93V220.1zM472.45 220.1V212.5h1.93V220.1zM474.38 220.1V213.0h1.93V220.1zM476.31 220.1V210.5h1.93V220.1zM478.24 220.1V210.1h1.93V220.1zM480.17 220.1V215.0h1.93V220.1zM482.10 220.1V216.7h1.93V220.1zM484.03 220.1V213.1h1.93V220.1zM485.96 220.1V215.3h1.93V220.1zM489.82 220.1V217.0h1.93V220.1zM491.75 220.1V217.3h1.93V220.1zM493.68 220.1V217.0h1.93V220.1zM507.19 220.1V216.0h1.93V220.1zM518.77 220.1V217.0h1.93V220.1zM545.79 220.1V217.6h1.93V220.1zM582.46 220.1V217.0h1.93V220.1z" fill="#e31a1c" fill-opacity="0.84" mask="url(#mR2r)"/><clipPath id="cpR2"><path d="M405.00 220.1V214.0h1.93V220.1zM406.93 220.1V200.0h1.93V220.1zM408.86 220.1V165.0h1.93V220.1zM410.79 220.1V152.0h1.93V220.1zM412.72 220.1V138.2h1.93V220.1zM414.65 220.1V154.0h1.93V220.1zM416.58 220.1V166.0h1.93V220.1zM418.51 220.1V168.0h1.93V220.1zM420.44 220.1V171.6h1.93V220.1zM422.37 220.1V177.0h1.93V220.1zM424.30 220.1V181.0h1.93V220.1zM426.23 220.1V184.0h1.93V220.1zM428.16 220.1V185.5h1.93V220.1zM430.09 220.1V190.2h1.93V220.1zM432.02 220.1V191.6h1.93V220.1zM433.95 220.1V193.2h1.93V220.1zM435.88 220.1V189.2h1.93V220.1zM437.81 220.1V198.0h1.93V220.1zM439.74 220.1V198.0h1.93V220.1zM441.67 220.1V197.2h1.93V220.1zM443.60 220.1V206.0h1.93V220.1zM445.53 220.1V205.0h1.93V220.1zM447.46 220.1V209.0h1.93V220.1zM449.39 220.1V205.0h1.93V220.1zM451.32 220.1V208.0h1.93V220.1zM453.25 220.1V206.0h1.93V220.1zM455.18 220.1V202.8h1.93V220.1zM457.11 220.1V211.0h1.93V220.1zM459.04 220.1V212.0h1.93V220.1zM460.97 220.1V214.0h1.93V220.1zM462.90 220.1V208.0h1.93V220.1zM464.83 220.1V215.0h1.93V220.1zM466.76 220.1V215.0h1.93V220.1zM468.69 220.1V214.0h1.93V220.1zM470.62 220.1V213.0h1.93V220.1zM472.55 220.1V210.9h1.93V220.1zM474.48 220.1V215.0h1.93V220.1zM476.41 220.1V213.0h1.93V220.1zM478.34 220.1V214.0h1.93V220.1zM480.27 220.1V217.0h1.93V220.1zM482.20 220.1V218.0h1.93V220.1zM484.13 220.1V216.0h1.93V220.1zM495.71 220.1V216.5h1.93V220.1zM503.43 220.1V215.5h1.93V220.1zM511.15 220.1V216.0h1.93V220.1zM524.66 220.1V217.0h1.93V220.1zM543.96 220.1V217.4h1.93V220.1zM404.90 220.1V208.8h1.93V220.1zM406.83 220.1V195.0h1.93V220.1zM408.76 220.1V131.0h1.93V220.1zM410.69 220.1V143.0h1.93V220.1zM412.62 220.1V147.0h1.93V220.1zM414.55 220.1V153.0h1.93V220.1zM416.48 220.1V168.0h1.93V220.1zM418.41 220.1V165.0h1.93V220.1zM420.34 220.1V172.0h1.93V220.1zM422.27 220.1V175.0h1.93V220.1zM424.20 220.1V177.0h1.93V220.1zM426.13 220.1V182.0h1.93V220.1zM428.06 220.1V188.0h1.93V220.1zM429.99 220.1V192.0h1.93V220.1zM431.92 220.1V199.0h1.93V220.1zM433.85 220.1V200.0h1.93V220.1zM435.78 220.1V196.0h1.93V220.1zM437.71 220.1V200.0h1.93V220.1zM439.64 220.1V206.0h1.93V220.1zM441.57 220.1V201.4h1.93V220.1zM443.50 220.1V203.0h1.93V220.1zM445.43 220.1V203.0h1.93V220.1zM447.36 220.1V207.0h1.93V220.1zM449.29 220.1V209.6h1.93V220.1zM451.22 220.1V205.0h1.93V220.1zM453.15 220.1V203.0h1.93V220.1zM455.08 220.1V206.3h1.93V220.1zM457.01 220.1V208.0h1.93V220.1zM458.94 220.1V209.6h1.93V220.1zM460.87 220.1V212.3h1.93V220.1zM462.80 220.1V211.0h1.93V220.1zM464.73 220.1V213.0h1.93V220.1zM466.66 220.1V213.8h1.93V220.1zM468.59 220.1V212.0h1.93V220.1zM470.52 220.1V210.1h1.93V220.1zM472.45 220.1V212.5h1.93V220.1zM474.38 220.1V213.0h1.93V220.1zM476.31 220.1V210.5h1.93V220.1zM478.24 220.1V210.1h1.93V220.1zM480.17 220.1V215.0h1.93V220.1zM482.10 220.1V216.7h1.93V220.1zM484.03 220.1V213.1h1.93V220.1zM485.96 220.1V215.3h1.93V220.1zM489.82 220.1V217.0h1.93V220.1zM491.75 220.1V217.3h1.93V220.1zM493.68 220.1V217.0h1.93V220.1zM507.19 220.1V216.0h1.93V220.1zM518.77 220.1V217.0h1.93V220.1zM545.79 220.1V217.6h1.93V220.1zM582.46 220.1V217.0h1.93V220.1z"/></clipPath><path clip-path="url(#cpR2)" d="M404.90 128.0V220.9M408.60 128.0V220.9M412.30 128.0V220.9M416.00 128.0V220.9M419.70 128.0V220.9M423.40 128.0V220.9M427.10 128.0V220.9M430.80 128.0V220.9M434.50 128.0V220.9M438.20 128.0V220.9M441.90 128.0V220.9M445.60 128.0V220.9M449.30 128.0V220.9M453.00 128.0V220.9M456.70 128.0V220.9M460.40 128.0V220.9M464.10 128.0V220.9M467.80 128.0V220.9M471.50 128.0V220.9M475.20 128.0V220.9M478.90 128.0V220.9M482.60 128.0V220.9M486.30 128.0V220.9M490.00 128.0V220.9M493.70 128.0V220.9M497.40 128.0V220.9M501.10 128.0V220.9M504.80 128.0V220.9M508.50 128.0V220.9M512.20 128.0V220.9M515.90 128.0V220.9M519.60 128.0V220.9M523.30 128.0V220.9M527.00 128.0V220.9M530.70 128.0V220.9M534.40 128.0V220.9M538.10 128.0V220.9M541.80 128.0V220.9M545.50 128.0V220.9M549.20 128.0V220.9M552.90 128.0V220.9M556.60 128.0V220.9M560.30 128.0V220.9M564.00 128.0V220.9M567.70 128.0V220.9M571.40 128.0V220.9M575.10 128.0V220.9M578.80 128.0V220.9M582.50 128.0V220.9M586.20 128.0V220.9M589.90 128.0V220.9M402.9 219.90H590.0M402.9 215.90H590.0M402.9 211.90H590.0M402.9 207.90H590.0M402.9 203.90H590.0M402.9 199.90H590.0M402.9 195.90H590.0M402.9 191.90H590.0M402.9 187.90H590.0M402.9 183.90H590.0M402.9 179.90H590.0M402.9 175.90H590.0M402.9 171.90H590.0M402.9 167.90H590.0M402.9 163.90H590.0M402.9 159.90H590.0M402.9 155.90H590.0M402.9 151.90H590.0M402.9 147.90H590.0M402.9 143.90H590.0M402.9 139.90H590.0M402.9 135.90H590.0M402.9 131.90H590.0" stroke="#fff" stroke-opacity="0.2" stroke-width="1.1" fill="none"/>
<line class="bl" x1="539.0" x2="647.9" y1="219.9" y2="219.9"/>
<path class="c cr" d="M391.60 219.90 C392.42 219.80 395.13 220.03 396.50 219.30 C397.87 218.57 398.85 217.37 399.80 215.50 C400.75 213.63 401.52 210.70 402.20 208.10 C402.88 205.50 403.35 203.18 403.90 199.90 C404.45 196.62 404.98 192.50 405.50 188.40 C406.02 184.30 406.63 178.37 407.00 175.30 C407.37 172.23 407.37 172.68 407.70 170.00 C408.03 167.32 408.60 162.23 409.00 159.20 C409.40 156.17 409.67 154.02 410.10 151.80 C410.53 149.58 410.98 147.43 411.60 145.90 C412.22 144.37 413.07 142.90 413.80 142.60 C414.53 142.30 415.37 143.28 416.00 144.10 C416.63 144.92 417.10 146.43 417.60 147.50 C418.10 148.57 418.48 149.08 419.00 150.50 C419.52 151.92 420.10 154.07 420.70 156.00 C421.30 157.93 421.98 160.22 422.60 162.10 C423.22 163.98 423.82 165.63 424.40 167.30 C424.98 168.97 425.40 170.30 426.10 172.10 C426.80 173.90 427.85 176.42 428.60 178.10 C429.35 179.78 430.02 180.68 430.60 182.20 C431.18 183.72 431.52 185.70 432.10 187.20 C432.68 188.70 433.27 189.95 434.10 191.20 C434.93 192.45 435.93 193.62 437.10 194.70 C438.27 195.78 439.75 196.87 441.10 197.70 C442.45 198.53 443.68 199.02 445.20 199.70 C446.72 200.38 448.70 201.17 450.20 201.80 C451.70 202.43 453.07 202.83 454.20 203.50 C455.33 204.17 456.20 205.05 457.00 205.80 C457.80 206.55 457.93 207.20 459.00 208.00 C460.07 208.80 461.70 209.88 463.40 210.60 C465.10 211.32 467.02 211.82 469.20 212.30 C471.38 212.78 474.07 213.00 476.50 213.50 C478.93 214.00 481.37 214.65 483.80 215.30 C486.23 215.95 488.67 216.87 491.10 217.40 C493.53 217.93 494.75 218.25 498.40 218.50 C502.05 218.75 508.13 218.72 513.00 218.90 C517.87 219.08 523.10 219.43 527.60 219.60 C532.10 219.77 537.93 219.85 540.00 219.90"/>
<path class="c cr" d="M391.90 219.90 C392.72 219.80 395.43 220.03 396.80 219.30 C398.17 218.57 399.15 217.37 400.10 215.50 C401.05 213.63 401.82 210.70 402.50 208.10 C403.18 205.50 403.65 203.18 404.20 199.90 C404.75 196.62 405.28 192.50 405.80 188.40 C406.32 184.30 406.93 178.37 407.30 175.30 C407.67 172.23 407.67 172.68 408.00 170.00 C408.33 167.32 408.90 162.23 409.30 159.20 C409.70 156.17 409.97 154.02 410.40 151.80 C410.83 149.58 411.40 147.38 411.90 145.90 C412.40 144.42 412.92 143.12 413.40 142.90 C413.88 142.68 414.33 143.92 414.80 144.60 C415.27 145.28 415.75 146.05 416.20 147.00 C416.65 147.95 417.03 148.80 417.50 150.30 C417.97 151.80 418.50 154.03 419.00 156.00 C419.50 157.97 419.95 160.10 420.50 162.10 C421.05 164.10 421.70 166.17 422.30 168.00 C422.90 169.83 423.47 171.68 424.10 173.10 C424.73 174.52 425.43 175.50 426.10 176.50 C426.77 177.50 427.35 178.18 428.10 179.10 C428.85 180.02 429.68 181.23 430.60 182.00 C431.52 182.77 432.60 182.75 433.60 183.70 C434.60 184.65 435.52 186.12 436.60 187.70 C437.68 189.28 438.83 191.53 440.10 193.20 C441.37 194.87 442.85 196.43 444.20 197.70 C445.55 198.97 446.87 199.95 448.20 200.80 C449.53 201.65 450.90 202.10 452.20 202.80 C453.50 203.50 454.87 204.08 456.00 205.00 C457.13 205.92 457.77 207.32 459.00 208.30 C460.23 209.28 461.70 210.18 463.40 210.90 C465.10 211.62 467.02 212.17 469.20 212.60 C471.38 213.03 474.07 213.05 476.50 213.50 C478.93 213.95 481.37 214.65 483.80 215.30 C486.23 215.95 488.67 216.87 491.10 217.40 C493.53 217.93 494.75 218.25 498.40 218.50 C502.05 218.75 508.13 218.72 513.00 218.90 C517.87 219.08 523.10 219.43 527.60 219.60 C532.10 219.77 537.93 219.85 540.00 219.90"/>
<rect class="pb" x="379.5" y="125.4" width="281.0" height="98.5"/>
</g>
<g id="R3">
<g fill="#1f78b4" fill-opacity="0.8"><circle cx="399.9" cy="398.9" r="3.30"/><circle cx="399.9" cy="392.1" r="3.30"/><circle cx="399.9" cy="385.3" r="3.30"/></g>
<g fill="#1f78b4" fill-opacity="0.8"><circle cx="407.9" cy="398.9" r="3.30"/><circle cx="407.9" cy="392.1" r="3.30"/><circle cx="407.9" cy="385.3" r="3.30"/><circle cx="407.9" cy="378.6" r="3.30"/><circle cx="407.9" cy="371.8" r="3.30"/><circle cx="407.9" cy="365.0" r="3.30"/><circle cx="407.9" cy="358.2" r="3.30"/><circle cx="407.9" cy="351.4" r="3.30"/><circle cx="407.9" cy="344.7" r="3.30"/><circle cx="407.9" cy="337.9" r="3.30"/><circle cx="407.9" cy="331.1" r="3.30"/></g>
<g fill="#1f78b4" fill-opacity="0.8"><circle cx="415.6" cy="398.9" r="3.30"/><circle cx="415.6" cy="392.1" r="3.30"/><circle cx="415.6" cy="385.3" r="3.30"/><circle cx="415.6" cy="378.6" r="3.30"/><circle cx="415.6" cy="371.8" r="3.30"/><circle cx="415.6" cy="365.0" r="3.30"/><circle cx="415.6" cy="358.2" r="3.30"/><circle cx="415.6" cy="351.4" r="3.30"/></g>
<g fill="#1f78b4" fill-opacity="0.8"><circle cx="424.6" cy="398.9" r="3.30"/><circle cx="424.6" cy="392.1" r="3.30"/><circle cx="424.6" cy="385.3" r="3.30"/><circle cx="424.6" cy="378.6" r="3.30"/><circle cx="424.6" cy="371.8" r="3.30"/><circle cx="424.6" cy="365.0" r="3.30"/></g>
<g fill="#1f78b4" fill-opacity="0.8"><circle cx="436.8" cy="398.9" r="3.30"/></g>
<g fill="#1f78b4" fill-opacity="0.8"><circle cx="450.4" cy="398.9" r="3.30"/></g>
<g fill="#1f78b4" fill-opacity="0.8"><circle cx="467.0" cy="398.9" r="3.30"/></g>
<g fill="#1f78b4" fill-opacity="0.8"><circle cx="473.5" cy="398.9" r="3.30"/></g>
<g fill="#1f78b4" fill-opacity="0.8"><circle cx="482.3" cy="398.9" r="3.30"/><circle cx="482.3" cy="392.1" r="3.30"/></g>
<g fill="#1f78b4" fill-opacity="0.8"><circle cx="514.5" cy="398.9" r="3.30"/></g>
<g fill="#e31a1c" fill-opacity="0.8"><circle cx="401.9" cy="398.9" r="3.30"/><circle cx="401.9" cy="392.1" r="3.30"/></g>
<g fill="#e31a1c" fill-opacity="0.8"><circle cx="410.9" cy="398.9" r="3.30"/><circle cx="410.9" cy="392.1" r="3.30"/><circle cx="410.9" cy="385.3" r="3.30"/><circle cx="410.9" cy="378.6" r="3.30"/><circle cx="410.9" cy="371.8" r="3.30"/></g>
<g fill="#e31a1c" fill-opacity="0.8"><circle cx="416.8" cy="398.9" r="3.30"/><circle cx="416.8" cy="392.1" r="3.30"/><circle cx="416.8" cy="385.3" r="3.30"/><circle cx="416.8" cy="378.6" r="3.30"/></g>
<g fill="#e31a1c" fill-opacity="0.8"><circle cx="427.2" cy="398.9" r="3.30"/><circle cx="427.2" cy="392.1" r="3.30"/><circle cx="427.2" cy="385.3" r="3.30"/><circle cx="427.2" cy="378.6" r="3.30"/></g>
<g fill="#e31a1c" fill-opacity="0.8"><circle cx="433.5" cy="398.9" r="3.30"/><circle cx="433.5" cy="392.1" r="3.30"/><circle cx="433.5" cy="385.3" r="3.30"/><circle cx="433.5" cy="378.6" r="3.30"/><circle cx="433.5" cy="371.8" r="3.30"/></g>
<g fill="#e31a1c" fill-opacity="0.8"><circle cx="440.3" cy="398.9" r="3.30"/><circle cx="440.3" cy="392.1" r="3.30"/></g>
<g fill="#e31a1c" fill-opacity="0.8"><circle cx="447.8" cy="398.9" r="3.30"/><circle cx="447.8" cy="392.1" r="3.30"/><circle cx="447.8" cy="385.3" r="3.30"/></g>
<g fill="#e31a1c" fill-opacity="0.8"><circle cx="457.8" cy="398.9" r="3.30"/><circle cx="457.8" cy="392.1" r="3.30"/><circle cx="457.8" cy="385.3" r="3.30"/></g>
<g fill="#e31a1c" fill-opacity="0.8"><circle cx="464.0" cy="398.9" r="3.30"/><circle cx="464.0" cy="392.1" r="3.30"/><circle cx="464.0" cy="385.3" r="3.30"/></g>
<g fill="#e31a1c" fill-opacity="0.8"><circle cx="478.6" cy="398.9" r="3.30"/><circle cx="478.6" cy="392.1" r="3.30"/></g>
<g fill="#e31a1c" fill-opacity="0.8"><circle cx="485.8" cy="398.9" r="3.30"/><circle cx="485.8" cy="392.1" r="3.30"/></g>
<line class="bl" x1="529.0" x2="647.9" y1="402.3" y2="402.3"/>
<path class="c cr" d="M391.40 395.80 C391.92 395.17 393.48 393.30 394.50 392.00 C395.52 390.70 396.42 389.45 397.50 388.00 C398.58 386.55 399.75 384.92 401.00 383.30 C402.25 381.68 403.65 379.90 405.00 378.30 C406.35 376.70 407.77 375.03 409.10 373.70 C410.43 372.37 411.65 371.32 413.00 370.30 C414.35 369.28 415.95 368.23 417.20 367.60 C418.45 366.97 419.43 366.77 420.50 366.50 C421.57 366.23 422.35 366.07 423.60 366.00 C424.85 365.93 426.35 365.93 428.00 366.10 C429.65 366.27 431.83 366.52 433.50 367.00 C435.17 367.48 436.50 368.20 438.00 369.00 C439.50 369.80 440.28 370.53 442.50 371.80 C444.72 373.07 448.38 375.13 451.30 376.60 C454.22 378.07 457.08 379.28 460.00 380.60 C462.92 381.92 465.88 383.27 468.80 384.50 C471.72 385.73 475.12 387.12 477.50 388.00 C479.88 388.88 481.43 389.08 483.10 389.80 C484.77 390.52 486.03 391.43 487.50 392.30 C488.97 393.17 490.48 394.13 491.90 395.00 C493.32 395.87 494.55 396.70 496.00 397.50 C497.45 398.30 499.27 399.25 500.60 399.80 C501.93 400.35 502.97 400.55 504.00 400.80 C505.03 401.05 505.47 401.12 506.80 401.30 C508.13 401.48 509.80 401.75 512.00 401.90 C514.20 402.05 517.00 402.13 520.00 402.20 C523.00 402.27 528.33 402.28 530.00 402.30"/>
<path class="c cr" d="M391.40 395.80 C391.83 394.83 393.07 392.63 394.00 390.00 C394.93 387.37 396.17 382.92 397.00 380.00 C397.83 377.08 398.42 374.83 399.00 372.50 C399.58 370.17 399.93 368.52 400.50 366.00 C401.07 363.48 401.78 360.43 402.40 357.40 C403.02 354.37 403.58 350.75 404.20 347.80 C404.82 344.85 405.48 341.92 406.10 339.70 C406.72 337.48 407.28 335.92 407.90 334.50 C408.52 333.08 409.18 331.90 409.80 331.20 C410.42 330.50 410.93 330.30 411.60 330.30 C412.27 330.30 413.07 330.50 413.80 331.20 C414.53 331.90 415.27 333.08 416.00 334.50 C416.73 335.92 417.47 337.73 418.20 339.70 C418.93 341.67 419.65 343.97 420.40 346.30 C421.15 348.63 422.02 351.37 422.70 353.70 C423.38 356.03 423.82 358.17 424.50 360.30 C425.18 362.43 426.15 364.55 426.80 366.50 C427.45 368.45 427.82 370.17 428.40 372.00 C428.98 373.83 429.45 375.30 430.30 377.50 C431.15 379.70 432.20 383.02 433.50 385.20 C434.80 387.38 436.60 389.18 438.10 390.60 C439.60 392.02 441.03 393.03 442.50 393.70 C443.97 394.37 445.15 394.47 446.90 394.60 C448.65 394.73 450.82 394.57 453.00 394.50 C455.18 394.43 457.37 394.40 460.00 394.20 C462.63 394.00 466.30 393.67 468.80 393.30 C471.30 392.93 473.33 392.33 475.00 392.00 C476.67 391.67 477.47 391.22 478.80 391.30 C480.13 391.38 481.55 391.88 483.00 392.50 C484.45 393.12 485.87 393.78 487.50 395.00 C489.13 396.22 490.90 398.70 492.80 399.80 C494.70 400.90 496.87 401.45 498.90 401.60 C500.93 401.75 503.15 401.17 505.00 400.70 C506.85 400.23 508.42 399.30 510.00 398.80 C511.58 398.30 513.00 397.70 514.50 397.70 C516.00 397.70 517.67 398.30 519.00 398.80 C520.33 399.30 520.88 400.17 522.50 400.70 C524.12 401.23 526.62 401.73 528.70 402.00 C530.78 402.27 533.95 402.25 535.00 402.30"/>
<rect class="pb" x="379.5" y="307.3" width="281.0" height="98.7"/>
</g>
<g id="R4">
<path d="M399.00 507.5V505.0h1.93V507.5zM400.93 507.5V498.0h1.93V507.5zM402.86 507.5V488.0h1.93V507.5zM404.79 507.5V474.0h1.93V507.5zM406.72 507.5V460.0h1.93V507.5zM408.65 507.5V456.0h1.93V507.5zM410.58 507.5V437.0h1.93V507.5zM412.51 507.5V440.0h1.93V507.5zM414.44 507.5V440.0h1.93V507.5zM416.37 507.5V439.0h1.93V507.5zM418.30 507.5V448.0h1.93V507.5zM420.23 507.5V455.0h1.93V507.5zM422.16 507.5V452.0h1.93V507.5zM424.09 507.5V475.0h1.93V507.5zM426.02 507.5V465.0h1.93V507.5zM427.95 507.5V463.0h1.93V507.5zM429.88 507.5V472.0h1.93V507.5zM431.81 507.5V480.0h1.93V507.5zM433.74 507.5V487.0h1.93V507.5zM435.67 507.5V484.0h1.93V507.5zM437.60 507.5V489.0h1.93V507.5zM439.53 507.5V490.6h1.93V507.5zM441.46 507.5V496.0h1.93V507.5zM443.39 507.5V493.7h1.93V507.5zM445.32 507.5V497.0h1.93V507.5zM447.25 507.5V495.0h1.93V507.5zM449.18 507.5V498.0h1.93V507.5zM451.11 507.5V499.0h1.93V507.5zM453.04 507.5V500.0h1.93V507.5zM454.97 507.5V502.0h1.93V507.5zM456.90 507.5V504.0h1.93V507.5zM458.83 507.5V495.0h1.93V507.5zM460.76 507.5V504.0h1.93V507.5zM462.69 507.5V502.9h1.93V507.5zM464.62 507.5V503.5h1.93V507.5zM466.55 507.5V505.0h1.93V507.5zM468.48 507.5V499.2h1.93V507.5zM470.41 507.5V504.0h1.93V507.5zM472.34 507.5V505.0h1.93V507.5zM474.27 507.5V504.5h1.93V507.5zM476.20 507.5V506.0h1.93V507.5zM478.13 507.5V505.0h1.93V507.5zM480.06 507.5V505.0h1.93V507.5zM495.50 507.5V501.8h1.93V507.5zM503.22 507.5V500.3h1.93V507.5zM514.80 507.5V505.0h1.93V507.5zM530.24 507.5V505.3h1.93V507.5z" fill="#1f78b4" fill-opacity="0.78" mask="url(#mR4b)"/><path d="M401.40 507.5V503.0h1.93V507.5zM403.33 507.5V492.0h1.93V507.5zM405.26 507.5V478.0h1.93V507.5zM407.19 507.5V462.0h1.93V507.5zM409.12 507.5V452.0h1.93V507.5zM411.05 507.5V447.0h1.93V507.5zM412.98 507.5V431.0h1.93V507.5zM414.91 507.5V433.6h1.93V507.5zM416.84 507.5V452.0h1.93V507.5zM418.77 507.5V448.0h1.93V507.5zM420.70 507.5V443.6h1.93V507.5zM422.63 507.5V452.0h1.93V507.5zM424.56 507.5V471.0h1.93V507.5zM426.49 507.5V460.0h1.93V507.5zM428.42 507.5V468.0h1.93V507.5zM430.35 507.5V469.0h1.93V507.5zM432.28 507.5V478.4h1.93V507.5zM434.21 507.5V485.4h1.93V507.5zM436.14 507.5V481.9h1.93V507.5zM438.07 507.5V486.3h1.93V507.5zM440.00 507.5V496.8h1.93V507.5zM441.93 507.5V494.2h1.93V507.5zM443.86 507.5V497.0h1.93V507.5zM445.79 507.5V494.2h1.93V507.5zM447.72 507.5V497.5h1.93V507.5zM449.65 507.5V495.9h1.93V507.5zM451.58 507.5V496.8h1.93V507.5zM453.51 507.5V498.5h1.93V507.5zM455.44 507.5V500.3h1.93V507.5zM457.37 507.5V501.5h1.93V507.5zM459.30 507.5V501.6h1.93V507.5zM461.23 507.5V503.0h1.93V507.5zM463.16 507.5V498.1h1.93V507.5zM465.09 507.5V501.2h1.93V507.5zM467.02 507.5V503.5h1.93V507.5zM468.95 507.5V503.0h1.93V507.5zM470.88 507.5V504.7h1.93V507.5zM472.81 507.5V500.7h1.93V507.5zM474.74 507.5V504.7h1.93V507.5zM476.67 507.5V506.0h1.93V507.5zM482.46 507.5V506.0h1.93V507.5zM486.32 507.5V505.1h1.93V507.5zM495.97 507.5V504.5h1.93V507.5zM522.99 507.5V503.5h1.93V507.5z" fill="#e31a1c" fill-opacity="0.84" mask="url(#mR4r)"/><clipPath id="cpR4"><path d="M399.00 507.5V505.0h1.93V507.5zM400.93 507.5V498.0h1.93V507.5zM402.86 507.5V488.0h1.93V507.5zM404.79 507.5V474.0h1.93V507.5zM406.72 507.5V460.0h1.93V507.5zM408.65 507.5V456.0h1.93V507.5zM410.58 507.5V437.0h1.93V507.5zM412.51 507.5V440.0h1.93V507.5zM414.44 507.5V440.0h1.93V507.5zM416.37 507.5V439.0h1.93V507.5zM418.30 507.5V448.0h1.93V507.5zM420.23 507.5V455.0h1.93V507.5zM422.16 507.5V452.0h1.93V507.5zM424.09 507.5V475.0h1.93V507.5zM426.02 507.5V465.0h1.93V507.5zM427.95 507.5V463.0h1.93V507.5zM429.88 507.5V472.0h1.93V507.5zM431.81 507.5V480.0h1.93V507.5zM433.74 507.5V487.0h1.93V507.5zM435.67 507.5V484.0h1.93V507.5zM437.60 507.5V489.0h1.93V507.5zM439.53 507.5V490.6h1.93V507.5zM441.46 507.5V496.0h1.93V507.5zM443.39 507.5V493.7h1.93V507.5zM445.32 507.5V497.0h1.93V507.5zM447.25 507.5V495.0h1.93V507.5zM449.18 507.5V498.0h1.93V507.5zM451.11 507.5V499.0h1.93V507.5zM453.04 507.5V500.0h1.93V507.5zM454.97 507.5V502.0h1.93V507.5zM456.90 507.5V504.0h1.93V507.5zM458.83 507.5V495.0h1.93V507.5zM460.76 507.5V504.0h1.93V507.5zM462.69 507.5V502.9h1.93V507.5zM464.62 507.5V503.5h1.93V507.5zM466.55 507.5V505.0h1.93V507.5zM468.48 507.5V499.2h1.93V507.5zM470.41 507.5V504.0h1.93V507.5zM472.34 507.5V505.0h1.93V507.5zM474.27 507.5V504.5h1.93V507.5zM476.20 507.5V506.0h1.93V507.5zM478.13 507.5V505.0h1.93V507.5zM480.06 507.5V505.0h1.93V507.5zM495.50 507.5V501.8h1.93V507.5zM503.22 507.5V500.3h1.93V507.5zM514.80 507.5V505.0h1.93V507.5zM530.24 507.5V505.3h1.93V507.5zM401.40 507.5V503.0h1.93V507.5zM403.33 507.5V492.0h1.93V507.5zM405.26 507.5V478.0h1.93V507.5zM407.19 507.5V462.0h1.93V507.5zM409.12 507.5V452.0h1.93V507.5zM411.05 507.5V447.0h1.93V507.5zM412.98 507.5V431.0h1.93V507.5zM414.91 507.5V433.6h1.93V507.5zM416.84 507.5V452.0h1.93V507.5zM418.77 507.5V448.0h1.93V507.5zM420.70 507.5V443.6h1.93V507.5zM422.63 507.5V452.0h1.93V507.5zM424.56 507.5V471.0h1.93V507.5zM426.49 507.5V460.0h1.93V507.5zM428.42 507.5V468.0h1.93V507.5zM430.35 507.5V469.0h1.93V507.5zM432.28 507.5V478.4h1.93V507.5zM434.21 507.5V485.4h1.93V507.5zM436.14 507.5V481.9h1.93V507.5zM438.07 507.5V486.3h1.93V507.5zM440.00 507.5V496.8h1.93V507.5zM441.93 507.5V494.2h1.93V507.5zM443.86 507.5V497.0h1.93V507.5zM445.79 507.5V494.2h1.93V507.5zM447.72 507.5V497.5h1.93V507.5zM449.65 507.5V495.9h1.93V507.5zM451.58 507.5V496.8h1.93V507.5zM453.51 507.5V498.5h1.93V507.5zM455.44 507.5V500.3h1.93V507.5zM457.37 507.5V501.5h1.93V507.5zM459.30 507.5V501.6h1.93V507.5zM461.23 507.5V503.0h1.93V507.5zM463.16 507.5V498.1h1.93V507.5zM465.09 507.5V501.2h1.93V507.5zM467.02 507.5V503.5h1.93V507.5zM468.95 507.5V503.0h1.93V507.5zM470.88 507.5V504.7h1.93V507.5zM472.81 507.5V500.7h1.93V507.5zM474.74 507.5V504.7h1.93V507.5zM476.67 507.5V506.0h1.93V507.5zM482.46 507.5V506.0h1.93V507.5zM486.32 507.5V505.1h1.93V507.5zM495.97 507.5V504.5h1.93V507.5zM522.99 507.5V503.5h1.93V507.5z"/></clipPath><path clip-path="url(#cpR4)" d="M399.46 425.0V508.3M403.16 425.0V508.3M406.86 425.0V508.3M410.56 425.0V508.3M414.26 425.0V508.3M417.96 425.0V508.3M421.66 425.0V508.3M425.36 425.0V508.3M429.06 425.0V508.3M432.76 425.0V508.3M436.46 425.0V508.3M440.16 425.0V508.3M443.86 425.0V508.3M447.56 425.0V508.3M451.26 425.0V508.3M454.96 425.0V508.3M458.66 425.0V508.3M462.36 425.0V508.3M466.06 425.0V508.3M469.76 425.0V508.3M473.46 425.0V508.3M477.16 425.0V508.3M480.86 425.0V508.3M484.56 425.0V508.3M488.26 425.0V508.3M491.96 425.0V508.3M495.66 425.0V508.3M499.36 425.0V508.3M503.06 425.0V508.3M506.76 425.0V508.3M510.46 425.0V508.3M514.16 425.0V508.3M517.86 425.0V508.3M521.56 425.0V508.3M525.26 425.0V508.3M528.96 425.0V508.3M532.66 425.0V508.3M536.36 425.0V508.3M397.5 507.30H540.0M397.5 503.30H540.0M397.5 499.30H540.0M397.5 495.30H540.0M397.5 491.30H540.0M397.5 487.30H540.0M397.5 483.30H540.0M397.5 479.30H540.0M397.5 475.30H540.0M397.5 471.30H540.0M397.5 467.30H540.0M397.5 463.30H540.0M397.5 459.30H540.0M397.5 455.30H540.0M397.5 451.30H540.0M397.5 447.30H540.0M397.5 443.30H540.0M397.5 439.30H540.0M397.5 435.30H540.0M397.5 431.30H540.0M397.5 427.30H540.0" stroke="#fff" stroke-opacity="0.2" stroke-width="1.1" fill="none"/>
<line class="bl" x1="534.0" x2="647.9" y1="507.3" y2="507.3"/>
<path class="c cr" d="M391.60 507.30 C392.42 507.05 395.13 507.02 396.50 505.80 C397.87 504.58 398.85 502.60 399.80 500.00 C400.75 497.40 401.38 494.30 402.20 490.20 C403.02 486.10 403.87 480.88 404.70 475.40 C405.53 469.92 406.43 463.05 407.20 457.30 C407.97 451.55 408.62 445.55 409.30 440.90 C409.98 436.25 410.68 432.02 411.30 429.40 C411.92 426.78 412.45 426.07 413.00 425.20 C413.55 424.33 414.05 424.20 414.60 424.20 C415.15 424.20 415.77 424.73 416.30 425.20 C416.83 425.67 417.13 425.48 417.80 427.00 C418.47 428.52 419.47 431.70 420.30 434.30 C421.13 436.90 421.98 439.58 422.80 442.60 C423.62 445.62 424.38 449.40 425.20 452.40 C426.02 455.40 426.73 458.00 427.70 460.60 C428.67 463.20 429.90 465.80 431.00 468.00 C432.10 470.20 433.22 472.02 434.30 473.80 C435.38 475.58 436.42 476.80 437.50 478.70 C438.58 480.60 439.70 483.35 440.80 485.20 C441.90 487.05 442.87 488.65 444.10 489.80 C445.33 490.95 446.83 491.35 448.20 492.10 C449.57 492.85 450.98 493.53 452.30 494.30 C453.62 495.07 454.75 495.82 456.10 496.70 C457.45 497.58 458.70 498.80 460.40 499.60 C462.10 500.40 464.35 501.02 466.30 501.50 C468.25 501.98 470.15 502.08 472.10 502.50 C474.05 502.92 476.05 503.43 478.00 504.00 C479.95 504.57 481.62 505.55 483.80 505.90 C485.98 506.25 487.93 506.17 491.10 506.10 C494.27 506.03 499.63 505.47 502.80 505.50 C505.97 505.53 506.93 506.07 510.10 506.30 C513.27 506.53 517.65 506.73 521.80 506.90 C525.95 507.07 532.80 507.23 535.00 507.30"/>
<path class="c cr" d="M391.60 507.30 C392.47 507.07 395.33 507.12 396.80 505.90 C398.27 504.68 399.33 502.62 400.40 500.00 C401.47 497.38 402.27 494.30 403.20 490.20 C404.13 486.10 405.08 480.88 406.00 475.40 C406.92 469.92 407.88 463.05 408.70 457.30 C409.52 451.55 410.23 445.48 410.90 440.90 C411.57 436.32 412.18 432.35 412.70 429.80 C413.22 427.25 413.58 426.47 414.00 425.60 C414.42 424.73 414.90 424.60 415.20 424.60 C415.50 424.60 415.45 425.13 415.80 425.60 C416.15 426.07 416.63 425.88 417.30 427.40 C417.97 428.92 418.97 432.10 419.80 434.70 C420.63 437.30 421.48 439.98 422.30 443.00 C423.12 446.02 423.88 449.80 424.70 452.80 C425.52 455.80 426.37 458.38 427.20 461.00 C428.03 463.62 428.73 466.28 429.70 468.50 C430.67 470.72 431.92 472.52 433.00 474.30 C434.08 476.08 435.12 477.30 436.20 479.20 C437.28 481.10 438.40 483.85 439.50 485.70 C440.60 487.55 441.57 489.15 442.80 490.30 C444.03 491.45 445.53 491.85 446.90 492.60 C448.27 493.35 449.68 494.03 451.00 494.80 C452.32 495.57 453.23 496.40 454.80 497.20 C456.37 498.00 458.48 498.88 460.40 499.60 C462.32 500.32 464.35 501.02 466.30 501.50 C468.25 501.98 470.15 502.08 472.10 502.50 C474.05 502.92 476.05 503.43 478.00 504.00 C479.95 504.57 481.62 505.55 483.80 505.90 C485.98 506.25 487.93 506.17 491.10 506.10 C494.27 506.03 499.63 505.47 502.80 505.50 C505.97 505.53 506.93 506.07 510.10 506.30 C513.27 506.53 517.65 506.73 521.80 506.90 C525.95 507.07 532.80 507.23 535.00 507.30"/>
<rect class="pb" x="379.5" y="412.8" width="281.0" height="98.2"/>
</g>
<text class="lt" x="212.1" y="593.2">Task Condition</text>
<rect x="319.5" y="580.7" width="15.0" height="15.4" fill="#1f78b4" stroke="#111" stroke-width="1.2"/>
<text class="ll" x="340.4" y="592.6">Single-Task</text>
<rect x="405.5" y="580.7" width="15.0" height="15.4" fill="#e31a1c" stroke="#111" stroke-width="1.2"/>
<text class="ll" x="426.6" y="592.6">Multi-Task</text>
</svg></body></html>
